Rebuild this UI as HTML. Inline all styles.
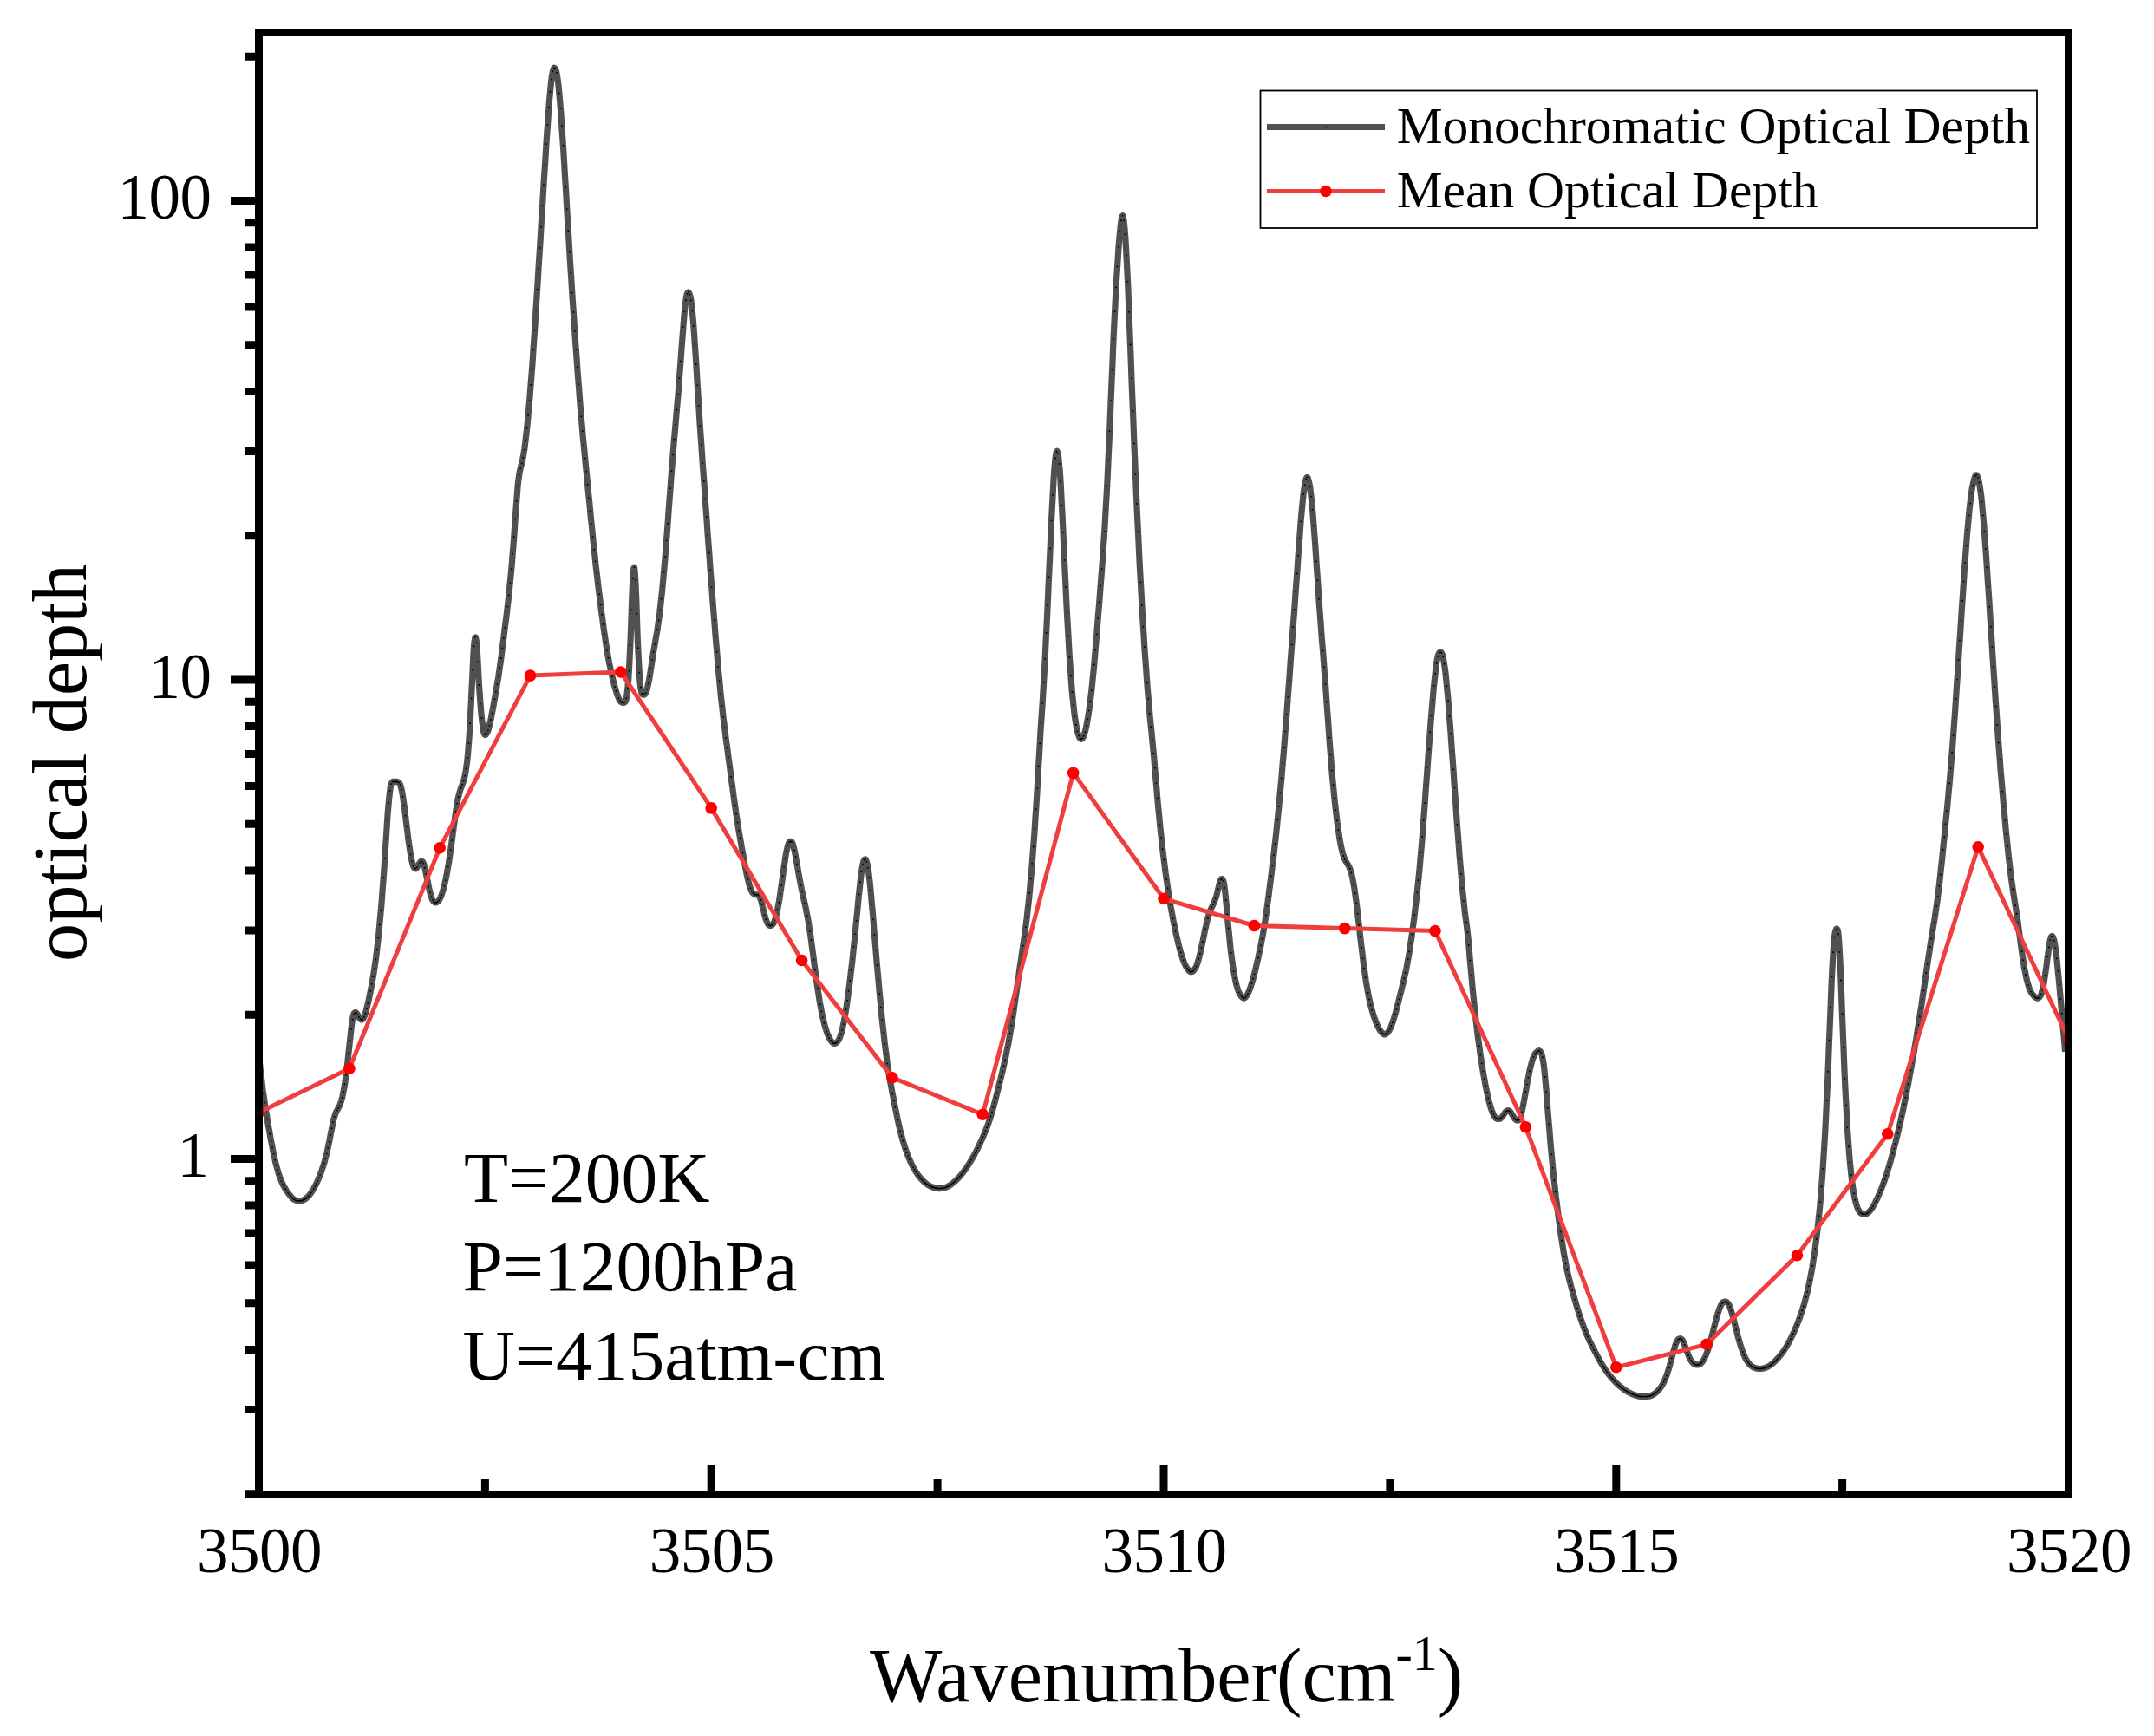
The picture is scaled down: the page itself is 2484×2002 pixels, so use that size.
<!DOCTYPE html>
<html lang="en"><head><meta charset="utf-8"><title>Optical depth</title>
<style>html,body{margin:0;padding:0;background:#fff}body{width:2484px;height:2002px;overflow:hidden}svg{display:block}text{font-family:"Liberation Serif","Times New Roman",serif;fill:#000}</style></head><body>
<svg width="2484" height="2002" viewBox="0 0 2484 2002">
<rect width="2484" height="2002" fill="#fff"/>
<defs><clipPath id="pc"><rect x="298.5" y="37.5" width="2087.0" height="1686.0"/></clipPath></defs>
<g clip-path="url(#pc)" fill="none">
<path d="M296.5 1200.3 297.2 1206.2 298 1212.6 298.8 1219.2 299.5 1226 300.2 1232.8 301 1239.5 301.8 1245.9 302.5 1252.1 303.2 1258 304 1263.5 304.8 1268.8 305.5 1273.8 306.2 1278.6 307 1283.3 307.8 1287.9 308.5 1292.4 309.2 1296.8 310 1301.1 310.8 1305.4 311.5 1309.6 312.2 1313.8 313 1317.8 313.8 1321.7 314.5 1325.6 315.2 1329.2 316 1332.8 316.8 1336.2 317.5 1339.4 318.2 1342.5 319 1345.4 319.8 1348.2 320.5 1350.8 321.2 1353.2 322 1355.5 322.8 1357.6 323.5 1359.6 324.2 1361.5 325 1363.2 325.8 1364.9 326.5 1366.4 327.2 1367.9 328 1369.2 328.8 1370.5 329.5 1371.7 330.2 1372.9 331 1374 331.8 1375.1 332.5 1376.1 333.2 1377.1 334 1378.1 334.8 1379 335.5 1379.9 336.2 1380.7 337 1381.5 337.8 1382.2 338.5 1382.8 339.2 1383.3 340 1383.7 340.8 1384.1 341.5 1384.4 342.2 1384.6 343 1384.8 343.8 1384.9 344.5 1385 345.2 1385 346 1384.9 346.8 1384.8 347.5 1384.6 348.2 1384.4 349 1384.2 349.8 1383.9 350.5 1383.5 351.2 1383.1 352 1382.6 352.8 1382.1 353.5 1381.5 354.2 1380.8 355 1380.1 355.8 1379.3 356.5 1378.5 357.2 1377.6 358 1376.6 358.8 1375.6 359.5 1374.5 360.2 1373.3 361 1372.1 361.8 1370.8 362.5 1369.4 363.2 1368 364 1366.5 364.8 1365 365.5 1363.4 366.2 1361.8 367 1360.1 367.8 1358.3 368.5 1356.5 369.2 1354.6 370 1352.6 370.8 1350.6 371.5 1348.4 372.2 1346.2 373 1343.8 373.8 1341.4 374.5 1338.8 375.2 1336 376 1333.1 376.8 1330.1 377.5 1326.9 378.2 1323.5 379 1319.9 379.8 1316.2 380.5 1312.4 381.2 1308.4 382 1304.5 382.8 1300.6 383.5 1296.8 384.2 1293.4 385 1290.2 385.8 1287.5 386.5 1285.2 387.2 1283.3 388 1281.7 388.8 1280.3 389.5 1279 390.2 1277.7 391 1276.3 391.8 1274.6 392.5 1272.7 393.2 1270.6 394 1268 394.8 1265.1 395.5 1261.7 396.2 1258 397 1253.7 397.8 1249 398.5 1243.8 399.2 1238.1 400 1232 400.8 1225.6 401.5 1218.8 402.2 1211.8 403 1204.8 403.8 1197.8 404.5 1191 405.2 1184.6 406 1178.9 406.8 1174.2 407.5 1170.7 408.2 1168.7 409 1167.8 409.8 1167.6 410.5 1167.8 411.2 1168.4 412 1169.5 412.8 1170.9 413.5 1172.3 414.2 1173.5 415 1174.6 415.8 1175.4 416.5 1175.9 417.2 1176 418 1175.6 418.8 1174.8 419.5 1173.6 420.2 1172 421 1169.9 421.8 1167.4 422.5 1164.6 423.2 1161.6 424 1158.5 424.8 1155.2 425.5 1151.7 426.2 1148.1 427 1144.4 427.8 1140.6 428.5 1136.6 429.2 1132.5 430 1128.2 430.8 1123.7 431.5 1119 432.2 1114 433 1108.7 433.8 1103.1 434.5 1097 435.2 1090.7 436 1083.9 436.8 1076.8 437.5 1069.3 438.2 1061.4 439 1053.1 439.8 1044.4 440.5 1035.2 441.2 1025.5 442 1015.4 442.8 1004.7 443.5 993.6 444.2 982.2 445 970.6 445.8 959.1 446.5 948.1 447.2 937.6 448 928.2 448.8 920.1 449.5 913.4 450.2 908.3 451 904.8 451.8 902.7 452.5 901.7 453.2 901.4 454 901.3 454.8 901.3 455.5 901.2 456.2 901.3 457 901.4 457.8 901.5 458.5 901.7 459.2 901.9 460 902.5 460.8 903.4 461.5 905 462.2 907.2 463 910.2 463.8 913.8 464.5 918.1 465.2 923 466 928.4 466.8 934.1 467.5 940.1 468.2 946.3 469 952.5 469.8 958.6 470.5 964.6 471.2 970.4 472 975.8 472.8 980.8 473.5 985.3 474.2 989.4 475 993 475.8 996 476.5 998.4 477.2 1000.1 478 1001.2 478.8 1001.7 479.5 1001.8 480.2 1001.2 481 1000.2 481.8 998.9 482.5 997.6 483.2 996.2 484 995 484.8 994 485.5 993.3 486.2 993.2 487 993.5 487.8 994.3 488.5 995.7 489.2 998 490 1001.1 490.8 1004.6 491.5 1008.3 492.2 1012.1 493 1015.9 493.8 1019.6 494.5 1023.2 495.2 1026.5 496 1029.6 496.8 1032.3 497.5 1034.7 498.2 1036.7 499 1038.2 499.8 1039.3 500.5 1040.1 501.2 1040.6 502 1040.9 502.8 1040.9 503.5 1040.6 504.2 1040.2 505 1039.7 505.8 1038.9 506.5 1037.9 507.2 1036.6 508 1035.1 508.8 1033.3 509.5 1031.2 510.2 1028.9 511 1026.4 511.8 1023.7 512.5 1020.7 513.2 1017.5 514 1014 514.8 1010.3 515.5 1006.4 516.2 1002.2 517 997.8 517.8 993.2 518.5 988.3 519.2 983.2 520 977.9 520.8 972.4 521.5 966.8 522.2 961.1 523 955.4 523.8 949.7 524.5 944.2 525.2 938.8 526 933.8 526.8 929.1 527.5 924.8 528.2 920.9 529 917.5 529.8 914.6 530.5 912 531.2 909.8 532 907.7 532.8 905.8 533.5 903.8 534.2 901.7 535 899.3 535.8 896.3 536.5 892.8 537.2 888.6 538 883.4 538.8 877.2 539.5 869.8 540.2 861.2 541 851.1 541.8 839.5 542.5 826.4 543.2 811.8 544 796 544.8 779.3 545.5 763.1 546.2 749.4 547 740.2 547.8 735.6 548.5 735.1 549.2 738.7 550 746.7 550.8 758.5 551.5 772.3 552.2 785.7 553 797.9 553.8 808.6 554.5 817.9 555.2 825.8 556 832.5 556.8 838.2 557.5 842.8 558.2 845.9 559 847.4 559.8 847.5 560.5 846.9 561.2 846 562 844.6 562.8 842.7 563.5 840.3 564.2 837.4 565 834.2 565.8 830.8 566.5 827.2 567.2 823.3 568 819.4 568.8 815.3 569.5 811.2 570.2 807 571 802.8 571.8 798.5 572.5 794.2 573.2 789.7 574 785.2 574.8 780.5 575.5 775.5 576.2 770.4 577 765.1 577.8 759.6 578.5 753.9 579.2 748 580 742.1 580.8 736.2 581.5 730.2 582.2 724.2 583 718.3 583.8 712.3 584.5 706.1 585.2 699.8 586 693.3 586.8 686.6 587.5 679.5 588.2 672.2 589 664.4 589.8 656.2 590.5 647.6 591.2 638.5 592 629 592.8 619 593.5 608.6 594.2 598 595 587.5 595.8 577.3 596.5 567.9 597.2 559.5 598 552.6 598.8 547.2 599.5 543.1 600.2 539.9 601 537 601.8 534.2 602.5 531 603.2 527.3 604 522.9 604.8 518 605.5 512.4 606.2 506.3 607 499.6 607.8 492.6 608.5 485.1 609.2 477.3 610 469 610.8 460.4 611.5 451.4 612.2 442 613 432.2 613.8 422 614.5 411.5 615.2 400.6 616 389.4 616.8 377.9 617.5 366.3 618.2 354.5 619 342.6 619.8 330.6 620.5 318.6 621.2 306.5 622 294.4 622.8 282.3 623.5 270.1 624.2 258 625 245.8 625.8 233.6 626.5 221.4 627.2 209.2 628 197.2 628.8 185.3 629.5 173.5 630.2 162 631 150.8 631.8 140 632.5 129.7 633.2 119.8 634 110.8 634.8 102.6 635.5 95.4 636.2 89.2 637 84.4 637.8 80.9 638.5 78.9 639.2 78.2 640 78.6 640.8 79.8 641.5 82.2 642.2 85.8 643 90.7 643.8 96.7 644.5 103.7 645.2 111.6 646 120.4 646.8 130 647.5 140.1 648.2 150.9 649 162.2 649.8 173.9 650.5 185.9 651.2 198.2 652 210.7 652.8 223.3 653.5 235.9 654.2 248.5 655 261 655.8 273.5 656.5 285.8 657.2 297.9 658 309.9 658.8 321.7 659.5 333.3 660.2 344.7 661 356 661.8 367.1 662.5 378.1 663.2 388.8 664 399.5 664.8 409.9 665.5 420.2 666.2 430.3 667 440.3 667.8 450 668.5 459.5 669.2 468.7 670 477.7 670.8 486.5 671.5 494.9 672.2 503.2 673 511.2 673.8 519 674.5 526.7 675.2 534.4 676 542 676.8 549.6 677.5 557.2 678.2 564.9 679 572.5 679.8 580.2 680.5 587.9 681.2 595.6 682 603.2 682.8 610.7 683.5 618.1 684.2 625.5 685 632.6 685.8 639.7 686.5 646.5 687.2 653.2 688 659.8 688.8 666.2 689.5 672.5 690.2 678.7 691 684.8 691.8 690.8 692.5 696.7 693.2 702.6 694 708.4 694.8 714.1 695.5 719.7 696.2 725.1 697 730.5 697.8 735.6 698.5 740.6 699.2 745.4 700 750.1 700.8 754.5 701.5 758.7 702.2 762.7 703 766.6 703.8 770.3 704.5 773.8 705.2 777.1 706 780.4 706.8 783.5 707.5 786.5 708.2 789.3 709 792.1 709.8 794.7 710.5 797.1 711.2 799.5 712 801.6 712.8 803.6 713.5 805.4 714.2 807 715 808.3 715.8 809.2 716.5 809.8 717.2 810.1 718 810.2 718.8 810.3 719.5 810.3 720.2 810.1 721 809.4 721.8 807.8 722.5 804.5 723.2 799.2 724 791.8 724.8 782.4 725.5 771 726.2 756.9 727 739.7 727.8 719.5 728.5 698.1 729.2 678.6 730 664.1 730.8 655.8 731.5 654.3 732.2 660 733 673.4 733.8 692.6 734.5 714 735.2 734.5 736 752.5 736.8 767.3 737.5 779 738.2 787.9 739 794.3 739.8 798.4 740.5 800.5 741.2 801.1 742 801.2 742.8 801.1 743.5 800.8 744.2 800 745 798.4 745.8 796.3 746.5 793.5 747.2 790.4 748 786.7 748.8 782.7 749.5 778.4 750.2 773.8 751 768.9 751.8 764 752.5 759 753.2 754.2 754 749.6 754.8 745.1 755.5 740.8 756.2 736.6 757 732.3 757.8 727.9 758.5 723.2 759.2 718.1 760 712.6 760.8 706.7 761.5 700.4 762.2 693.7 763 686.5 763.8 679.1 764.5 671.2 765.2 663.1 766 654.6 766.8 645.8 767.5 636.7 768.2 627.3 769 617.6 769.8 607.6 770.5 597.5 771.2 587.3 772 577 772.8 566.8 773.5 556.7 774.2 546.7 775 537 775.8 527.6 776.5 518.4 777.2 509.5 778 500.8 778.8 492.2 779.5 483.7 780.2 475.2 781 466.4 781.8 457.5 782.5 448.3 783.2 438.8 784 429 784.8 419 785.5 408.9 786.2 398.8 787 388.7 787.8 379 788.5 369.7 789.2 361.1 790 353.5 790.8 347.2 791.5 342.6 792.2 339.4 793 337.5 793.8 337 794.5 337.7 795.2 339.3 796 341.9 796.8 345.7 797.5 350.9 798.2 357.6 799 365.7 799.8 374.8 800.5 384.9 801.2 395.8 802 407.1 802.8 418.9 803.5 431 804.2 443.1 805 455.3 805.8 467.3 806.5 479.1 807.2 490.5 808 501.7 808.8 512.6 809.5 523.3 810.2 533.9 811 544.3 811.8 554.7 812.5 565.1 813.2 575.5 814 586 814.8 596.5 815.5 606.9 816.2 617.3 817 627.6 817.8 637.9 818.5 648 819.2 658 820 668 820.8 677.8 821.5 687.5 822.2 697.1 823 706.7 823.8 716.2 824.5 725.5 825.2 734.8 826 743.9 826.8 752.8 827.5 761.5 828.2 770 829 778.3 829.8 786.2 830.5 793.9 831.2 801.3 832 808.4 832.8 815.3 833.5 821.9 834.2 828.2 835 834.4 835.8 840.5 836.5 846.4 837.2 852.1 838 857.8 838.8 863.5 839.5 869.1 840.2 874.7 841 880.3 841.8 885.9 842.5 891.6 843.2 897.2 844 902.8 844.8 908.4 845.5 914 846.2 919.5 847 924.9 847.8 930.2 848.5 935.4 849.2 940.4 850 945.3 850.8 950.1 851.5 954.7 852.2 959.3 853 963.7 853.8 968 854.5 972.3 855.2 976.6 856 980.8 856.8 985 857.5 989.2 858.2 993.3 859 997.3 859.8 1001.2 860.5 1005 861.2 1008.6 862 1012.1 862.8 1015.3 863.5 1018.2 864.2 1020.9 865 1023.2 865.8 1025.3 866.5 1027 867.2 1028.5 868 1029.7 868.8 1030.5 869.5 1031.1 870.2 1031.5 871 1031.7 871.8 1031.8 872.5 1031.8 873.2 1031.8 874 1032.1 874.8 1032.6 875.5 1033.6 876.2 1035 877 1036.8 877.8 1039.2 878.5 1041.9 879.2 1044.8 880 1047.9 880.8 1051 881.5 1054 882.2 1056.8 883 1059.4 883.8 1061.7 884.5 1063.6 885.2 1065.1 886 1066.2 886.8 1066.9 887.5 1067.3 888.2 1067.5 889 1067.5 889.8 1067.2 890.5 1066.7 891.2 1065.9 892 1064.8 892.8 1063.4 893.5 1061.4 894.2 1059.1 895 1056.4 895.8 1053.3 896.5 1049.8 897.2 1045.9 898 1041.7 898.8 1037.2 899.5 1032.4 900.2 1027.3 901 1022.1 901.8 1016.7 902.5 1011.3 903.2 1005.9 904 1000.6 904.8 995.5 905.5 990.6 906.2 986 907 981.9 907.8 978.3 908.5 975.3 909.2 973 910 971.4 910.8 970.5 911.5 970.2 912.2 970.4 913 971 913.8 972.3 914.5 974.3 915.2 977 916 980.2 916.8 983.8 917.5 987.7 918.2 991.9 919 996.1 919.8 1000.5 920.5 1004.8 921.2 1009 922 1013.2 922.8 1017.2 923.5 1021 924.2 1024.7 925 1028.3 925.8 1031.7 926.5 1035 927.2 1038.4 928 1041.7 928.8 1045.1 929.5 1048.7 930.2 1052.4 931 1056.3 931.8 1060.4 932.5 1064.8 933.2 1069.5 934 1074.4 934.8 1079.5 935.5 1084.8 936.2 1090.3 937 1096 937.8 1101.7 938.5 1107.5 939.2 1113.2 940 1118.9 940.8 1124.5 941.5 1130 942.2 1135.4 943 1140.5 943.8 1145.5 944.5 1150.3 945.2 1154.8 946 1159.2 946.8 1163.3 947.5 1167.1 948.2 1170.8 949 1174.2 949.8 1177.4 950.5 1180.3 951.2 1183.1 952 1185.7 952.8 1188.1 953.5 1190.3 954.2 1192.4 955 1194.2 955.8 1195.9 956.5 1197.4 957.2 1198.8 958 1200 958.8 1200.9 959.5 1201.8 960.2 1202.5 961 1203 961.8 1203.3 962.5 1203.4 963.2 1203.3 964 1202.9 964.8 1202.3 965.5 1201.6 966.2 1200.7 967 1199.6 967.8 1198.1 968.5 1196.4 969.2 1194.4 970 1192 970.8 1189.4 971.5 1186.4 972.2 1183.1 973 1179.5 973.8 1175.5 974.5 1171.2 975.2 1166.6 976 1161.7 976.8 1156.6 977.5 1151.2 978.2 1145.7 979 1140 979.8 1134.1 980.5 1128 981.2 1121.8 982 1115.4 982.8 1108.8 983.5 1102 984.2 1095 985 1087.9 985.8 1080.5 986.5 1072.9 987.2 1065.3 988 1057.5 988.8 1049.7 989.5 1041.9 990.2 1034.4 991 1027 991.8 1020 992.5 1013.4 993.2 1007.4 994 1002.1 994.8 997.8 995.5 994.6 996.2 992.4 997 991.2 997.8 990.9 998.5 991.6 999.2 993.3 1000 995.8 1000.8 999.3 1001.5 1004 1002.2 1009.8 1003 1016.6 1003.8 1024.1 1004.5 1032 1005.2 1040.3 1006 1049 1006.8 1057.8 1007.5 1066.8 1008.2 1075.8 1009 1084.7 1009.8 1093.6 1010.5 1102.4 1011.2 1111.1 1012 1119.6 1012.8 1128.1 1013.5 1136.3 1014.2 1144.4 1015 1152.4 1015.8 1160.2 1016.5 1167.8 1017.2 1175.3 1018 1182.5 1018.8 1189.5 1019.5 1196.2 1020.2 1202.7 1021 1208.9 1021.8 1214.8 1022.5 1220.4 1023.2 1225.8 1024 1230.9 1024.8 1235.8 1025.5 1240.5 1026.2 1245 1027 1249.3 1027.8 1253.4 1028.5 1257.4 1029.2 1261.3 1030 1265.1 1030.8 1269 1031.5 1272.8 1032.2 1276.5 1033 1280.3 1033.8 1284 1034.5 1287.7 1035.2 1291.3 1036 1294.8 1036.8 1298.1 1037.5 1301.3 1038.2 1304.5 1039 1307.4 1039.8 1310.3 1040.5 1313 1041.2 1315.6 1042 1318.1 1042.8 1320.5 1043.5 1322.9 1044.2 1325.1 1045 1327.3 1045.8 1329.4 1046.5 1331.4 1047.2 1333.3 1048 1335.2 1048.8 1337 1049.5 1338.7 1050.2 1340.4 1051 1342 1051.8 1343.5 1052.5 1345 1053.2 1346.4 1054 1347.7 1054.8 1349 1055.5 1350.2 1056.2 1351.4 1057 1352.5 1057.8 1353.6 1058.5 1354.7 1059.2 1355.7 1060 1356.7 1060.8 1357.6 1061.5 1358.5 1062.2 1359.4 1063 1360.2 1063.8 1361 1064.5 1361.8 1065.2 1362.5 1066 1363.2 1066.8 1363.9 1067.5 1364.5 1068.2 1365.1 1069 1365.7 1069.8 1366.2 1070.5 1366.6 1071.2 1367.1 1072 1367.5 1072.8 1367.9 1073.5 1368.2 1074.2 1368.6 1075 1368.9 1075.8 1369.1 1076.5 1369.4 1077.2 1369.6 1078 1369.8 1078.8 1370 1079.5 1370.1 1080.2 1370.3 1081 1370.4 1081.8 1370.5 1082.5 1370.6 1083.2 1370.6 1084 1370.6 1084.8 1370.5 1085.5 1370.5 1086.2 1370.4 1087 1370.3 1087.8 1370.1 1088.5 1370 1089.2 1369.8 1090 1369.5 1090.8 1369.3 1091.5 1369 1092.2 1368.6 1093 1368.2 1093.8 1367.8 1094.5 1367.4 1095.2 1366.9 1096 1366.5 1096.8 1365.9 1097.5 1365.4 1098.2 1364.8 1099 1364.2 1099.8 1363.6 1100.5 1363 1101.2 1362.3 1102 1361.6 1102.8 1360.9 1103.5 1360.2 1104.2 1359.4 1105 1358.6 1105.8 1357.8 1106.5 1357 1107.2 1356.2 1108 1355.3 1108.8 1354.4 1109.5 1353.5 1110.2 1352.5 1111 1351.6 1111.8 1350.6 1112.5 1349.6 1113.2 1348.5 1114 1347.4 1114.8 1346.4 1115.5 1345.2 1116.2 1344.1 1117 1342.9 1117.8 1341.8 1118.5 1340.6 1119.2 1339.3 1120 1338.1 1120.8 1336.8 1121.5 1335.5 1122.2 1334.2 1123 1332.8 1123.8 1331.4 1124.5 1330 1125.2 1328.6 1126 1327.2 1126.8 1325.7 1127.5 1324.2 1128.2 1322.7 1129 1321.2 1129.8 1319.6 1130.5 1318 1131.2 1316.4 1132 1314.8 1132.8 1313.1 1133.5 1311.4 1134.2 1309.7 1135 1307.9 1135.8 1306.1 1136.5 1304.2 1137.2 1302.4 1138 1300.4 1138.8 1298.4 1139.5 1296.4 1140.2 1294.3 1141 1292.1 1141.8 1289.8 1142.5 1287.5 1143.2 1285.1 1144 1282.5 1144.8 1279.9 1145.5 1277.2 1146.2 1274.5 1147 1271.6 1147.8 1268.8 1148.5 1265.8 1149.2 1262.9 1150 1259.9 1150.8 1256.9 1151.5 1253.9 1152.2 1250.9 1153 1247.9 1153.8 1244.8 1154.5 1241.7 1155.2 1238.6 1156 1235.5 1156.8 1232.2 1157.5 1229 1158.2 1225.6 1159 1222.2 1159.8 1218.7 1160.5 1215.1 1161.2 1211.4 1162 1207.6 1162.8 1203.7 1163.5 1199.6 1164.2 1195.4 1165 1191.1 1165.8 1186.6 1166.5 1182 1167.2 1177.2 1168 1172.3 1168.8 1167.3 1169.5 1162.2 1170.2 1157 1171 1151.7 1171.8 1146.4 1172.5 1141 1173.2 1135.7 1174 1130.4 1174.8 1125.2 1175.5 1119.9 1176.2 1114.7 1177 1109.6 1177.8 1104.5 1178.5 1099.4 1179.2 1094.3 1180 1089.1 1180.8 1083.9 1181.5 1078.6 1182.2 1073.1 1183 1067.5 1183.8 1061.6 1184.5 1055.4 1185.2 1048.9 1186 1042 1186.8 1034.7 1187.5 1027.1 1188.2 1019 1189 1010.5 1189.8 1001.6 1190.5 992.3 1191.2 982.7 1192 972.6 1192.8 962.2 1193.5 951.3 1194.2 940.1 1195 928.4 1195.8 916.2 1196.5 903.7 1197.2 890.8 1198 877.6 1198.8 864.6 1199.5 851.8 1200.2 839.7 1201 828.2 1201.8 816.8 1202.5 805.4 1203.2 793.3 1204 780.5 1204.8 766.9 1205.5 752.5 1206.2 737.4 1207 721.8 1207.8 705.8 1208.5 689.5 1209.2 673 1210 656.3 1210.8 639.7 1211.5 623.3 1212.2 607.1 1213 591.6 1213.8 576.8 1214.5 563 1215.2 550.4 1216 539.5 1216.8 530.8 1217.5 524.9 1218.2 521.5 1219 520.4 1219.8 521.9 1220.5 526 1221.2 532.2 1222 540.6 1222.8 551.2 1223.5 563.8 1224.2 577.9 1225 593.1 1225.8 609 1226.5 625.1 1227.2 641.2 1228 657.1 1228.8 672.7 1229.5 687.9 1230.2 702.6 1231 716.7 1231.8 730.2 1232.5 743 1233.2 755.1 1234 766.5 1234.8 777.2 1235.5 787.1 1236.2 796.2 1237 804.5 1237.8 812 1238.5 818.8 1239.2 824.9 1240 830.3 1240.8 835 1241.5 839.1 1242.2 842.7 1243 845.6 1243.8 847.9 1244.5 849.7 1245.2 851.1 1246 852 1246.8 852.3 1247.5 852.1 1248.2 851.5 1249 850.4 1249.8 848.9 1250.5 846.9 1251.2 844.3 1252 841.1 1252.8 837.6 1253.5 833.7 1254.2 829.4 1255 824.8 1255.8 819.8 1256.5 814.4 1257.2 808.7 1258 802.7 1258.8 796.2 1259.5 789.4 1260.2 782.1 1261 774.5 1261.8 766.4 1262.5 758 1263.2 749.2 1264 740.3 1264.8 731.1 1265.5 721.9 1266.2 712.6 1267 703.2 1267.8 693.8 1268.5 684.3 1269.2 674.8 1270 665.1 1270.8 655.1 1271.5 644.9 1272.2 634.2 1273 623.1 1273.8 611.4 1274.5 599.2 1275.2 586.3 1276 572.7 1276.8 558.4 1277.5 543.3 1278.2 527.6 1279 511.2 1279.8 494.2 1280.5 476.7 1281.2 458.7 1282 440.6 1282.8 422.5 1283.5 404.7 1284.2 387.5 1285 371.1 1285.8 355.8 1286.5 341.6 1287.2 328.4 1288 316.1 1288.8 304.2 1289.5 292.8 1290.2 282.3 1291 273 1291.8 265 1292.5 258.2 1293.2 252.8 1294 249.5 1294.8 248.8 1295.5 251.1 1296.2 256.2 1297 263.9 1297.8 273.9 1298.5 285.8 1299.2 299.3 1300 314.3 1300.8 330.7 1301.5 348.3 1302.2 366.8 1303 385.8 1303.8 405 1304.5 424.4 1305.2 443.7 1306 463 1306.8 482 1307.5 500.8 1308.2 519.2 1309 537.2 1309.8 554.7 1310.5 571.8 1311.2 588.5 1312 604.6 1312.8 620.3 1313.5 635.4 1314.2 650.2 1315 664.4 1315.8 678.2 1316.5 691.5 1317.2 704.5 1318 717 1318.8 729.1 1319.5 740.7 1320.2 752 1321 762.8 1321.8 773.2 1322.5 783.2 1323.2 792.8 1324 802 1324.8 810.9 1325.5 819.3 1326.2 827.4 1327 835.2 1327.8 842.7 1328.5 850.1 1329.2 857.7 1330 865.6 1330.8 873.9 1331.5 882.5 1332.2 891.4 1333 900.3 1333.8 909.1 1334.5 917.7 1335.2 926 1336 934.1 1336.8 941.9 1337.5 949.5 1338.2 956.8 1339 963.9 1339.8 970.7 1340.5 977.4 1341.2 983.7 1342 989.9 1342.8 995.9 1343.5 1001.7 1344.2 1007.3 1345 1012.7 1345.8 1018 1346.5 1023.1 1347.2 1028.1 1348 1032.9 1348.8 1037.5 1349.5 1042 1350.2 1046.4 1351 1050.6 1351.8 1054.6 1352.5 1058.6 1353.2 1062.4 1354 1066.2 1354.8 1069.8 1355.5 1073.4 1356.2 1076.9 1357 1080.3 1357.8 1083.5 1358.5 1086.7 1359.2 1089.7 1360 1092.6 1360.8 1095.4 1361.5 1098 1362.2 1100.5 1363 1102.9 1363.8 1105.2 1364.5 1107.3 1365.2 1109.2 1366 1111 1366.8 1112.7 1367.5 1114.2 1368.2 1115.6 1369 1116.8 1369.8 1117.8 1370.5 1118.8 1371.2 1119.6 1372 1120.2 1372.8 1120.7 1373.5 1120.8 1374.2 1120.7 1375 1120.4 1375.8 1119.9 1376.5 1119.2 1377.2 1118.3 1378 1117.3 1378.8 1115.9 1379.5 1114.4 1380.2 1112.5 1381 1110.4 1381.8 1108 1382.5 1105.4 1383.2 1102.5 1384 1099.4 1384.8 1096.2 1385.5 1092.7 1386.2 1089.2 1387 1085.5 1387.8 1081.8 1388.5 1078.1 1389.2 1074.5 1390 1070.9 1390.8 1067.5 1391.5 1064.3 1392.2 1061.2 1393 1058.4 1393.8 1055.8 1394.5 1053.4 1395.2 1051.3 1396 1049.4 1396.8 1047.6 1397.5 1046 1398.2 1044.5 1399 1043 1399.8 1041.4 1400.5 1039.7 1401.2 1037.8 1402 1035.7 1402.8 1033.3 1403.5 1030.5 1404.2 1027.5 1405 1024.2 1405.8 1020.8 1406.5 1017.8 1407.2 1015.6 1408 1014.1 1408.8 1013.5 1409.5 1013.6 1410.2 1014.6 1411 1016.8 1411.8 1020.5 1412.5 1026.1 1413.2 1033.1 1414 1041 1414.8 1049.2 1415.5 1057.4 1416.2 1065.6 1417 1073.6 1417.8 1081.2 1418.5 1088.4 1419.2 1095.2 1420 1101.5 1420.8 1107.3 1421.5 1112.6 1422.2 1117.5 1423 1122 1423.8 1126.1 1424.5 1129.8 1425.2 1133.2 1426 1136.2 1426.8 1138.9 1427.5 1141.3 1428.2 1143.3 1429 1145 1429.8 1146.5 1430.5 1147.7 1431.2 1148.7 1432 1149.5 1432.8 1150.2 1433.5 1150.8 1434.2 1151.1 1435 1151 1435.8 1150.5 1436.5 1149.8 1437.2 1148.8 1438 1147.7 1438.8 1146.5 1439.5 1145 1440.2 1143.3 1441 1141.5 1441.8 1139.4 1442.5 1137.2 1443.2 1134.9 1444 1132.4 1444.8 1129.8 1445.5 1127 1446.2 1124.2 1447 1121.2 1447.8 1118.2 1448.5 1115.1 1449.2 1111.9 1450 1108.6 1450.8 1105.3 1451.5 1102 1452.2 1098.5 1453 1095 1453.8 1091.4 1454.5 1087.7 1455.2 1083.8 1456 1079.7 1456.8 1075.5 1457.5 1071 1458.2 1066.4 1459 1061.5 1459.8 1056.5 1460.5 1051.3 1461.2 1045.9 1462 1040.3 1462.8 1034.7 1463.5 1028.9 1464.2 1023.1 1465 1017.2 1465.8 1011.2 1466.5 1005.2 1467.2 999.1 1468 993 1468.8 986.7 1469.5 980.3 1470.2 973.8 1471 967.1 1471.8 960.2 1472.5 953.2 1473.2 945.9 1474 938.4 1474.8 930.7 1475.5 922.8 1476.2 914.7 1477 906.5 1477.8 898 1478.5 889.4 1479.2 880.6 1480 871.6 1480.8 862.4 1481.5 853.1 1482.2 843.6 1483 833.9 1483.8 824 1484.5 814 1485.2 803.9 1486 793.8 1486.8 783.6 1487.5 773.4 1488.2 763.2 1489 753.1 1489.8 742.9 1490.5 732.7 1491.2 722.6 1492 712.4 1492.8 702.1 1493.5 691.8 1494.2 681.3 1495 670.9 1495.8 660.4 1496.5 649.9 1497.2 639.5 1498 629.2 1498.8 619.1 1499.5 609.4 1500.2 600.1 1501 591.3 1501.8 583 1502.5 575.5 1503.2 568.9 1504 563.3 1504.8 558.7 1505.5 554.9 1506.2 552.1 1507 550.6 1507.8 550.5 1508.5 551.9 1509.2 554.6 1510 558.1 1510.8 562.5 1511.5 567.9 1512.2 574.4 1513 581.8 1513.8 590.1 1514.5 599.1 1515.2 608.7 1516 618.7 1516.8 629.2 1517.5 639.9 1518.2 650.8 1519 661.8 1519.8 672.8 1520.5 683.6 1521.2 694.4 1522 704.9 1522.8 715.2 1523.5 725.1 1524.2 734.9 1525 744.4 1525.8 753.8 1526.5 763.3 1527.2 772.9 1528 782.7 1528.8 792.8 1529.5 803.1 1530.2 813.5 1531 824.1 1531.8 834.6 1532.5 844.9 1533.2 855.1 1534 865 1534.8 874.6 1535.5 883.8 1536.2 892.7 1537 901.1 1537.8 909.1 1538.5 916.7 1539.2 924 1540 930.8 1540.8 937.3 1541.5 943.4 1542.2 949.2 1543 954.7 1543.8 959.9 1544.5 964.8 1545.2 969.3 1546 973.4 1546.8 977.2 1547.5 980.5 1548.2 983.5 1549 986.1 1549.8 988.3 1550.5 990.2 1551.2 991.8 1552 993.2 1552.8 994.4 1553.5 995.6 1554.2 996.8 1555 998 1555.8 999.5 1556.5 1001.2 1557.2 1003.2 1558 1005.5 1558.8 1008.3 1559.5 1011.5 1560.2 1015.1 1561 1019.3 1561.8 1023.8 1562.5 1028.8 1563.2 1034.1 1564 1039.8 1564.8 1045.8 1565.5 1052.1 1566.2 1058.5 1567 1065.1 1567.8 1071.7 1568.5 1078.3 1569.2 1084.9 1570 1091.3 1570.8 1097.7 1571.5 1103.9 1572.2 1109.8 1573 1115.6 1573.8 1121.1 1574.5 1126.3 1575.2 1131.3 1576 1136 1576.8 1140.4 1577.5 1144.5 1578.2 1148.4 1579 1152 1579.8 1155.4 1580.5 1158.6 1581.2 1161.6 1582 1164.3 1582.8 1166.9 1583.5 1169.4 1584.2 1171.7 1585 1173.9 1585.8 1176 1586.5 1178 1587.2 1179.8 1588 1181.6 1588.8 1183.3 1589.5 1184.8 1590.2 1186.2 1591 1187.5 1591.8 1188.7 1592.5 1189.7 1593.2 1190.6 1594 1191.4 1594.8 1192.1 1595.5 1192.6 1596.2 1192.9 1597 1192.9 1597.8 1192.7 1598.5 1192.2 1599.2 1191.7 1600 1191 1600.8 1190.1 1601.5 1189.1 1602.2 1187.8 1603 1186.4 1603.8 1184.8 1604.5 1183 1605.2 1181.1 1606 1179 1606.8 1176.8 1607.5 1174.4 1608.2 1171.8 1609 1169.2 1609.8 1166.5 1610.5 1163.7 1611.2 1160.8 1612 1157.9 1612.8 1154.9 1613.5 1151.9 1614.2 1149 1615 1146 1615.8 1143 1616.5 1140 1617.2 1137 1618 1134 1618.8 1130.9 1619.5 1127.7 1620.2 1124.3 1621 1120.9 1621.8 1117.2 1622.5 1113.4 1623.2 1109.4 1624 1105.2 1624.8 1100.8 1625.5 1096.2 1626.2 1091.4 1627 1086.4 1627.8 1081.3 1628.5 1075.9 1629.2 1070.5 1630 1064.8 1630.8 1059 1631.5 1053 1632.2 1046.8 1633 1040.4 1633.8 1033.8 1634.5 1026.9 1635.2 1019.8 1636 1012.4 1636.8 1004.6 1637.5 996.6 1638.2 988.2 1639 979.5 1639.8 970.5 1640.5 961.2 1641.2 951.6 1642 941.8 1642.8 931.8 1643.5 921.6 1644.2 911.2 1645 900.8 1645.8 890.4 1646.5 880 1647.2 869.7 1648 859.5 1648.8 849.5 1649.5 839.6 1650.2 830 1651 820.7 1651.8 811.6 1652.5 803 1653.2 794.8 1654 787 1654.8 779.8 1655.5 773.2 1656.2 767.3 1657 762.3 1657.8 758.4 1658.5 755.5 1659.2 753.7 1660 752.5 1660.8 752 1661.5 752 1662.2 752.6 1663 754.1 1663.8 756.4 1664.5 759.8 1665.2 764 1666 769 1666.8 774.8 1667.5 781.4 1668.2 788.7 1669 796.6 1669.8 805 1670.5 813.9 1671.2 823.2 1672 832.9 1672.8 842.8 1673.5 853 1674.2 863.3 1675 873.8 1675.8 884.4 1676.5 895 1677.2 905.8 1678 916.5 1678.8 927.2 1679.5 937.9 1680.2 948.4 1681 958.7 1681.8 968.8 1682.5 978.6 1683.2 988.1 1684 997.3 1684.8 1006.1 1685.5 1014.5 1686.2 1022.6 1687 1030.4 1687.8 1037.7 1688.5 1044.7 1689.2 1051.2 1690 1057.2 1690.8 1062.9 1691.5 1068.5 1692.2 1074.4 1693 1081.2 1693.8 1089 1694.5 1097.5 1695.2 1106.4 1696 1115.3 1696.8 1123.9 1697.5 1132.2 1698.2 1140.1 1699 1147.8 1699.8 1155.3 1700.5 1162.5 1701.2 1169.4 1702 1176.2 1702.8 1182.6 1703.5 1188.9 1704.2 1194.8 1705 1200.6 1705.8 1206.1 1706.5 1211.4 1707.2 1216.6 1708 1221.6 1708.8 1226.4 1709.5 1231.1 1710.2 1235.7 1711 1240.1 1711.8 1244.4 1712.5 1248.5 1713.2 1252.5 1714 1256.3 1714.8 1259.9 1715.5 1263.3 1716.2 1266.6 1717 1269.6 1717.8 1272.5 1718.5 1275.1 1719.2 1277.5 1720 1279.8 1720.8 1281.8 1721.5 1283.7 1722.2 1285.3 1723 1286.8 1723.8 1288 1724.5 1289 1725.2 1289.7 1726 1290.1 1726.8 1290.4 1727.5 1290.5 1728.2 1290.5 1729 1290.4 1729.8 1290.2 1730.5 1289.7 1731.2 1289.1 1732 1288.3 1732.8 1287.4 1733.5 1286.3 1734.2 1285.1 1735 1284 1735.8 1282.8 1736.5 1281.9 1737.2 1281.3 1738 1280.9 1738.8 1280.7 1739.5 1280.7 1740.2 1280.8 1741 1281.4 1741.8 1282.2 1742.5 1283.3 1743.2 1284.4 1744 1285.7 1744.8 1287 1745.5 1288.3 1746.2 1289.4 1747 1290.3 1747.8 1291 1748.5 1291.5 1749.2 1291.9 1750 1292.1 1750.8 1292.1 1751.5 1291.7 1752.2 1290.7 1753 1289.1 1753.8 1287 1754.5 1284.3 1755.2 1281 1756 1277.4 1756.8 1273.6 1757.5 1269.6 1758.2 1265.5 1759 1261.3 1759.8 1257 1760.5 1252.8 1761.2 1248.6 1762 1244.6 1762.8 1240.7 1763.5 1237 1764.2 1233.5 1765 1230.3 1765.8 1227.3 1766.5 1224.6 1767.2 1222.1 1768 1220 1768.8 1218.1 1769.5 1216.6 1770.2 1215.3 1771 1214.3 1771.8 1213.5 1772.5 1212.9 1773.2 1212.3 1774 1211.9 1774.8 1211.7 1775.5 1212 1776.2 1212.6 1777 1213.8 1777.8 1215.5 1778.5 1218.1 1779.2 1221.7 1780 1226.5 1780.8 1232.4 1781.5 1239.4 1782.2 1247.4 1783 1256.2 1783.8 1265.4 1784.5 1274.8 1785.2 1284.3 1786 1293.7 1786.8 1302.9 1787.5 1311.9 1788.2 1320.6 1789 1329 1789.8 1337.1 1790.5 1344.9 1791.2 1352.3 1792 1359.5 1792.8 1366.4 1793.5 1373 1794.2 1379.4 1795 1385.6 1795.8 1391.6 1796.5 1397.5 1797.2 1403.2 1798 1408.8 1798.8 1414.3 1799.5 1419.7 1800.2 1424.9 1801 1429.9 1801.8 1434.8 1802.5 1439.6 1803.2 1444.2 1804 1448.5 1804.8 1452.7 1805.5 1456.7 1806.2 1460.5 1807 1464.1 1807.8 1467.5 1808.5 1470.7 1809.2 1473.8 1810 1476.8 1810.8 1479.7 1811.5 1482.5 1812.2 1485.2 1813 1488 1813.8 1490.6 1814.5 1493.3 1815.2 1495.9 1816 1498.5 1816.8 1501.1 1817.5 1503.7 1818.2 1506.2 1819 1508.6 1819.8 1511.1 1820.5 1513.5 1821.2 1515.8 1822 1518.1 1822.8 1520.3 1823.5 1522.5 1824.2 1524.6 1825 1526.7 1825.8 1528.7 1826.5 1530.7 1827.2 1532.6 1828 1534.5 1828.8 1536.4 1829.5 1538.2 1830.2 1539.9 1831 1541.6 1831.8 1543.3 1832.5 1545 1833.2 1546.6 1834 1548.1 1834.8 1549.7 1835.5 1551.2 1836.2 1552.7 1837 1554.2 1837.8 1555.7 1838.5 1557.1 1839.2 1558.6 1840 1560 1840.8 1561.4 1841.5 1562.9 1842.2 1564.3 1843 1565.7 1843.8 1567 1844.5 1568.4 1845.2 1569.7 1846 1571 1846.8 1572.3 1847.5 1573.6 1848.2 1574.8 1849 1576 1849.8 1577.2 1850.5 1578.3 1851.2 1579.5 1852 1580.5 1852.8 1581.6 1853.5 1582.7 1854.2 1583.7 1855 1584.7 1855.8 1585.6 1856.5 1586.6 1857.2 1587.5 1858 1588.4 1858.8 1589.3 1859.5 1590.2 1860.2 1591 1861 1591.8 1861.8 1592.6 1862.5 1593.4 1863.2 1594.2 1864 1594.9 1864.8 1595.6 1865.5 1596.4 1866.2 1597 1867 1597.7 1867.8 1598.4 1868.5 1599 1869.2 1599.6 1870 1600.2 1870.8 1600.8 1871.5 1601.4 1872.2 1601.9 1873 1602.4 1873.8 1603 1874.5 1603.5 1875.2 1604 1876 1604.4 1876.8 1604.9 1877.5 1605.3 1878.2 1605.7 1879 1606.1 1879.8 1606.5 1880.5 1606.9 1881.2 1607.2 1882 1607.6 1882.8 1607.9 1883.5 1608.2 1884.2 1608.5 1885 1608.7 1885.8 1609 1886.5 1609.2 1887.2 1609.4 1888 1609.7 1888.8 1609.8 1889.5 1610 1890.2 1610.2 1891 1610.3 1891.8 1610.5 1892.5 1610.5 1893.2 1610.6 1894 1610.6 1894.8 1610.6 1895.5 1610.6 1896.2 1610.6 1897 1610.6 1897.8 1610.6 1898.5 1610.6 1899.2 1610.5 1900 1610.4 1900.8 1610.3 1901.5 1610.2 1902.2 1610 1903 1609.8 1903.8 1609.5 1904.5 1609.3 1905.2 1608.9 1906 1608.6 1906.8 1608.1 1907.5 1607.7 1908.2 1607.2 1909 1606.6 1909.8 1606 1910.5 1605.4 1911.2 1604.7 1912 1603.9 1912.8 1603 1913.5 1602.2 1914.2 1601.2 1915 1600.2 1915.8 1599 1916.5 1597.8 1917.2 1596.6 1918 1595.2 1918.8 1593.7 1919.5 1592.1 1920.2 1590.4 1921 1588.5 1921.8 1586.6 1922.5 1584.5 1923.2 1582.2 1924 1579.8 1924.8 1577.3 1925.5 1574.7 1926.2 1572 1927 1569.2 1927.8 1566.4 1928.5 1563.6 1929.2 1560.8 1930 1558 1930.8 1555.4 1931.5 1552.9 1932.2 1550.6 1933 1548.6 1933.8 1546.9 1934.5 1545.6 1935.2 1544.7 1936 1544.1 1936.8 1543.9 1937.5 1543.7 1938.2 1543.8 1939 1544.2 1939.8 1544.9 1940.5 1546 1941.2 1547.4 1942 1549.2 1942.8 1551.2 1943.5 1553.2 1944.2 1555.3 1945 1557.4 1945.8 1559.4 1946.5 1561.4 1947.2 1563.2 1948 1565 1948.8 1566.6 1949.5 1568 1950.2 1569.2 1951 1570.3 1951.8 1571.3 1952.5 1572 1953.2 1572.6 1954 1573.1 1954.8 1573.4 1955.5 1573.7 1956.2 1573.9 1957 1574 1957.8 1574 1958.5 1573.8 1959.2 1573.6 1960 1573.3 1960.8 1572.9 1961.5 1572.3 1962.2 1571.6 1963 1570.7 1963.8 1569.6 1964.5 1568.4 1965.2 1567.1 1966 1565.6 1966.8 1564 1967.5 1562.2 1968.2 1560.3 1969 1558.3 1969.8 1556.1 1970.5 1553.8 1971.2 1551.3 1972 1548.7 1972.8 1546 1973.5 1543.2 1974.2 1540.4 1975 1537.4 1975.8 1534.5 1976.5 1531.5 1977.2 1528.5 1978 1525.6 1978.8 1522.8 1979.5 1520 1980.2 1517.4 1981 1514.8 1981.8 1512.5 1982.5 1510.3 1983.2 1508.3 1984 1506.5 1984.8 1504.9 1985.5 1503.6 1986.2 1502.5 1987 1501.8 1987.8 1501.4 1988.5 1501.2 1989.2 1501.1 1990 1501.1 1990.8 1501.3 1991.5 1501.7 1992.2 1502.4 1993 1503.4 1993.8 1504.7 1994.5 1506.3 1995.2 1508.2 1996 1510.4 1996.8 1512.8 1997.5 1515.3 1998.2 1517.9 1999 1520.7 1999.8 1523.6 2000.5 1526.5 2001.2 1529.5 2002 1532.5 2002.8 1535.4 2003.5 1538.3 2004.2 1541.2 2005 1544 2005.8 1546.7 2006.5 1549.3 2007.2 1551.7 2008 1554.1 2008.8 1556.3 2009.5 1558.4 2010.2 1560.4 2011 1562.2 2011.8 1563.9 2012.5 1565.5 2013.2 1567 2014 1568.3 2014.8 1569.6 2015.5 1570.7 2016.2 1571.7 2017 1572.6 2017.8 1573.5 2018.5 1574.2 2019.2 1574.9 2020 1575.5 2020.8 1576 2021.5 1576.5 2022.2 1576.9 2023 1577.2 2023.8 1577.5 2024.5 1577.8 2025.2 1578 2026 1578.1 2026.8 1578.3 2027.5 1578.4 2028.2 1578.5 2029 1578.5 2029.8 1578.5 2030.5 1578.5 2031.2 1578.4 2032 1578.3 2032.8 1578.2 2033.5 1578 2034.2 1577.9 2035 1577.6 2035.8 1577.4 2036.5 1577.1 2037.2 1576.8 2038 1576.5 2038.8 1576.1 2039.5 1575.7 2040.2 1575.3 2041 1574.8 2041.8 1574.3 2042.5 1573.7 2043.2 1573.1 2044 1572.5 2044.8 1571.9 2045.5 1571.2 2046.2 1570.5 2047 1569.7 2047.8 1569 2048.5 1568.2 2049.2 1567.4 2050 1566.6 2050.8 1565.8 2051.5 1564.9 2052.2 1564 2053 1563.1 2053.8 1562.2 2054.5 1561.2 2055.2 1560.2 2056 1559.2 2056.8 1558.1 2057.5 1557 2058.2 1555.9 2059 1554.7 2059.8 1553.5 2060.5 1552.2 2061.2 1550.9 2062 1549.6 2062.8 1548.2 2063.5 1546.8 2064.2 1545.4 2065 1543.9 2065.8 1542.4 2066.5 1540.9 2067.2 1539.3 2068 1537.7 2068.8 1536 2069.5 1534.4 2070.2 1532.6 2071 1530.9 2071.8 1529.1 2072.5 1527.2 2073.2 1525.3 2074 1523.4 2074.8 1521.4 2075.5 1519.3 2076.2 1517.2 2077 1515 2077.8 1512.8 2078.5 1510.5 2079.2 1508.1 2080 1505.6 2080.8 1503.1 2081.5 1500.4 2082.2 1497.7 2083 1494.8 2083.8 1491.8 2084.5 1488.7 2085.2 1485.4 2086 1482 2086.8 1478.4 2087.5 1474.7 2088.2 1470.8 2089 1466.7 2089.8 1462.4 2090.5 1457.9 2091.2 1453.1 2092 1448.2 2092.8 1443 2093.5 1437.6 2094.2 1431.9 2095 1425.9 2095.8 1419.6 2096.5 1412.9 2097.2 1405.9 2098 1398.4 2098.8 1390.4 2099.5 1381.9 2100.2 1372.9 2101 1363.2 2101.8 1352.9 2102.5 1342 2103.2 1330.3 2104 1317.9 2104.8 1304.7 2105.5 1290.7 2106.2 1275.7 2107 1259.8 2107.8 1243 2108.5 1225.3 2109.2 1206.9 2110 1188.1 2110.8 1169.1 2111.5 1150.4 2112.2 1132.7 2113 1116.5 2113.8 1102.6 2114.5 1091.2 2115.2 1082.7 2116 1076.9 2116.8 1073.3 2117.5 1071.4 2118.2 1070.9 2119 1071.9 2119.8 1075.5 2120.5 1082.8 2121.2 1094 2122 1108.4 2122.8 1125.4 2123.5 1144.1 2124.2 1163.8 2125 1183.8 2125.8 1203.4 2126.5 1222.2 2127.2 1239.7 2128 1256.1 2128.8 1271.1 2129.5 1285 2130.2 1297.8 2131 1309.5 2131.8 1320.2 2132.5 1329.9 2133.2 1338.7 2134 1346.7 2134.8 1353.9 2135.5 1360.3 2136.2 1366.1 2137 1371.2 2137.8 1375.7 2138.5 1379.7 2139.2 1383.2 2140 1386.3 2140.8 1389 2141.5 1391.3 2142.2 1393.3 2143 1394.9 2143.8 1396.3 2144.5 1397.5 2145.2 1398.4 2146 1399.1 2146.8 1399.5 2147.5 1399.9 2148.2 1400.1 2149 1400.3 2149.8 1400.4 2150.5 1400.4 2151.2 1400.2 2152 1399.9 2152.8 1399.5 2153.5 1399 2154.2 1398.5 2155 1397.8 2155.8 1397.1 2156.5 1396.3 2157.2 1395.4 2158 1394.4 2158.8 1393.3 2159.5 1392.1 2160.2 1390.9 2161 1389.6 2161.8 1388.2 2162.5 1386.8 2163.2 1385.3 2164 1383.8 2164.8 1382.2 2165.5 1380.6 2166.2 1378.9 2167 1377.2 2167.8 1375.5 2168.5 1373.7 2169.2 1371.9 2170 1370 2170.8 1368 2171.5 1366.1 2172.2 1364 2173 1361.9 2173.8 1359.8 2174.5 1357.5 2175.2 1355.3 2176 1352.9 2176.8 1350.5 2177.5 1348.1 2178.2 1345.6 2179 1343 2179.8 1340.4 2180.5 1337.8 2181.2 1335.1 2182 1332.3 2182.8 1329.5 2183.5 1326.7 2184.2 1323.9 2185 1321 2185.8 1318.1 2186.5 1315.1 2187.2 1312.1 2188 1309 2188.8 1305.9 2189.5 1302.8 2190.2 1299.5 2191 1296.3 2191.8 1293 2192.5 1289.6 2193.2 1286.2 2194 1282.7 2194.8 1279.1 2195.5 1275.5 2196.2 1271.9 2197 1268.1 2197.8 1264.4 2198.5 1260.5 2199.2 1256.6 2200 1252.7 2200.8 1248.7 2201.5 1244.7 2202.2 1240.6 2203 1236.6 2203.8 1232.5 2204.5 1228.3 2205.2 1224.1 2206 1219.9 2206.8 1215.7 2207.5 1211.4 2208.2 1207 2209 1202.6 2209.8 1198.1 2210.5 1193.5 2211.2 1188.9 2212 1184.2 2212.8 1179.4 2213.5 1174.6 2214.2 1169.7 2215 1164.7 2215.8 1159.8 2216.5 1154.7 2217.2 1149.7 2218 1144.6 2218.8 1139.5 2219.5 1134.4 2220.2 1129.2 2221 1124.1 2221.8 1118.9 2222.5 1113.8 2223.2 1108.7 2224 1103.6 2224.8 1098.6 2225.5 1093.7 2226.2 1088.8 2227 1084 2227.8 1079.3 2228.5 1074.7 2229.2 1070.1 2230 1065.5 2230.8 1060.9 2231.5 1056.2 2232.2 1051.4 2233 1046.3 2233.8 1041.1 2234.5 1035.5 2235.2 1029.6 2236 1023.5 2236.8 1017 2237.5 1010.3 2238.2 1003.4 2239 996.2 2239.8 989 2240.5 981.7 2241.2 974.3 2242 966.8 2242.8 959.3 2243.5 951.8 2244.2 944.2 2245 936.6 2245.8 928.8 2246.5 921 2247.2 912.9 2248 904.7 2248.8 896.2 2249.5 887.4 2250.2 878.4 2251 869 2251.8 859.3 2252.5 849.3 2253.2 839.1 2254 828.5 2254.8 817.8 2255.5 806.8 2256.2 795.7 2257 784.5 2257.8 773.2 2258.5 761.8 2259.2 750.4 2260 738.9 2260.8 727.4 2261.5 715.9 2262.2 704.4 2263 693 2263.8 681.8 2264.5 670.7 2265.2 659.8 2266 649.1 2266.8 638.8 2267.5 628.9 2268.2 619.4 2269 610.5 2269.8 602 2270.5 594.1 2271.2 586.8 2272 580.1 2272.8 573.9 2273.5 568.5 2274.2 563.6 2275 559.5 2275.8 556 2276.5 553.1 2277.2 550.6 2278 548.8 2278.8 547.8 2279.5 548 2280.2 549.1 2281 551.1 2281.8 553.7 2282.5 557 2283.2 561.3 2284 566.6 2284.8 572.8 2285.5 579.8 2286.2 587.5 2287 596 2287.8 605 2288.5 614.6 2289.2 624.7 2290 635.1 2290.8 645.9 2291.5 656.9 2292.2 668.2 2293 679.5 2293.8 691 2294.5 702.6 2295.2 714.3 2296 726 2296.8 737.7 2297.5 749.4 2298.2 761 2299 772.7 2299.8 784.2 2300.5 795.6 2301.2 806.9 2302 818 2302.8 828.9 2303.5 839.5 2304.2 849.9 2305 860.1 2305.8 870 2306.5 879.7 2307.2 889.2 2308 898.4 2308.8 907.4 2309.5 916.2 2310.2 924.8 2311 933.2 2311.8 941.4 2312.5 949.4 2313.2 957.2 2314 964.8 2314.8 972.2 2315.5 979.3 2316.2 986.3 2317 993 2317.8 999.5 2318.5 1005.7 2319.2 1011.6 2320 1017.3 2320.8 1022.6 2321.5 1027.8 2322.2 1032.7 2323 1037.4 2323.8 1042.1 2324.5 1046.7 2325.2 1051.5 2326 1056.5 2326.8 1061.6 2327.5 1067 2328.2 1072.6 2329 1078.3 2329.8 1084 2330.5 1089.6 2331.2 1095.1 2332 1100.4 2332.8 1105.4 2333.5 1110.1 2334.2 1114.6 2335 1118.8 2335.8 1122.6 2336.5 1126.2 2337.2 1129.5 2338 1132.5 2338.8 1135.2 2339.5 1137.7 2340.2 1139.8 2341 1141.7 2341.8 1143.3 2342.5 1144.7 2343.2 1145.8 2344 1146.8 2344.8 1147.7 2345.5 1148.5 2346.2 1149.3 2347 1150 2347.8 1150.5 2348.5 1150.9 2349.2 1151.1 2350 1151.1 2350.8 1150.8 2351.5 1150.3 2352.2 1149.6 2353 1148.5 2353.8 1147 2354.5 1144.8 2355.2 1142.1 2356 1138.7 2356.8 1134.9 2357.5 1130.6 2358.2 1125.8 2359 1120.7 2359.8 1115.3 2360.5 1109.7 2361.2 1104 2362 1098.4 2362.8 1093.1 2363.5 1088.4 2364.2 1084.5 2365 1081.5 2365.8 1079.8 2366.5 1079.4 2367.2 1080.2 2368 1081.9 2368.8 1084.4 2369.5 1088 2370.2 1092.8 2371 1098.5 2371.8 1104.9 2372.5 1111.9 2373.2 1119.4 2374 1127.2 2374.8 1135.3 2375.5 1143.5 2376.2 1151.8 2377 1160.2 2377.8 1168.7 2378.5 1177.2 2379.2 1185.8 2380 1194.4 2380.8 1203.1 2381.5 1211.8 2381.6 1213" stroke="#505050" stroke-width="7.2" stroke-linejoin="round" stroke-linecap="butt"/>
<path d="M299.2 1223.3h0M300.7 1236.8h0M302.2 1249.5h0M303.7 1261.1h0M305.2 1271.6h0M306.7 1281.2h0M308.1 1290.2h0M309.6 1299h0M311.1 1307.5h0M312.6 1315.7h0M314.1 1323.5h0M315.6 1330.9h0M317.1 1337.6h0M318.6 1343.8h0M320.1 1349.3h0M321.6 1354.1h0M323 1358.4h0M324.5 1362.1h0M326 1365.4h0M327.5 1368.3h0M329 1370.9h0M330.5 1373.3h0M332 1375.4h0M333.5 1377.4h0M335 1379.3h0M336.5 1380.9h0M337.9 1382.3h0M339.4 1383.4h0M340.9 1384.2h0M342.4 1384.7h0M343.9 1385h0M345.4 1385h0M346.9 1384.8h0M348.4 1384.4h0M349.9 1383.8h0M351.4 1383h0M352.8 1382h0M354.3 1380.7h0M355.8 1379.2h0M357.3 1377.5h0M358.8 1375.5h0M360.3 1373.2h0M361.8 1370.7h0M363.3 1368h0M364.8 1365h0M366.3 1361.8h0M367.7 1358.3h0M369.2 1354.6h0M370.7 1350.6h0M372.2 1346.3h0M373.7 1341.5h0M375.2 1336.2h0M376.7 1330.4h0M378.2 1323.8h0M379.7 1316.7h0M381.2 1309h0M382.6 1301.2h0M384.1 1293.9h0M385.6 1288h0M387.1 1283.6h0M388.6 1280.6h0M390.1 1278h0M391.6 1275h0M393.1 1271.1h0M394.6 1265.9h0M396.1 1259h0M397.5 1250.3h0M399 1239.8h0M400.5 1227.6h0M402 1214.1h0M403.5 1200.1h0M405 1186.8h0M406.5 1175.8h0M408 1169.3h0M409.5 1167.6h0M411 1168.1h0M412.4 1170.3h0M413.9 1173h0M415.4 1175.1h0M416.9 1176h0M418.4 1175.2h0M419.9 1172.8h0M421.4 1168.7h0M422.9 1163.2h0M424.4 1156.9h0M425.9 1150.1h0M427.3 1142.7h0M428.8 1134.8h0M430.3 1126.3h0M431.8 1117h0M433.3 1106.5h0M434.8 1094.6h0M436.3 1081.3h0M437.8 1066.5h0M439.3 1050.2h0M440.8 1032.1h0M442.2 1012h0M443.7 990.1h0M445.2 967.2h0M446.7 945.1h0M448.2 925.9h0M449.7 911.9h0M451.2 904.1h0M452.7 901.6h0M454.2 901.3h0M455.7 901.2h0M457.1 901.4h0M458.6 901.7h0M460.1 902.6h0M461.6 905.3h0M463.1 910.6h0M464.6 918.7h0M466.1 929h0M467.6 940.7h0M469.1 953h0M470.6 965h0M472 976h0M473.5 985.5h0M475 993.1h0M476.5 998.4h0M478 1001.2h0M479.5 1001.8h0M481 1000.3h0M482.5 997.6h0M484 995.1h0M485.5 993.4h0M486.9 993.5h0M488.4 995.6h0M489.9 1000.8h0M491.4 1007.9h0M492.9 1015.4h0M494.4 1022.6h0M495.9 1029.1h0M497.4 1034.3h0M498.9 1037.9h0M500.4 1040h0M501.8 1040.9h0M503.3 1040.7h0M504.8 1039.8h0M506.3 1038.2h0M507.8 1035.5h0M509.3 1031.8h0M510.8 1027.2h0M512.3 1021.6h0M513.8 1015.1h0M515.3 1007.7h0M516.7 999.4h0M518.2 990.1h0M519.7 979.9h0M521.2 969h0M522.7 957.7h0M524.2 946.4h0M525.7 935.9h0M527.2 926.6h0M528.7 919h0M530.2 913.2h0M531.6 908.7h0M533.1 904.8h0M534.6 900.5h0M536.1 894.7h0M537.6 886.3h0M539.1 874h0M540.6 856.9h0M542.1 834h0M543.6 805.4h0M545.1 772.7h0M546.5 745.3h0M548 734.9h0M549.5 741.1h0M551 763.2h0M552.5 790h0M554 811.8h0M555.5 828h0M557 839.6h0M558.5 846.5h0M560 847.4h0M561.4 845.7h0M562.9 842.2h0M564.4 836.7h0M565.9 830h0M567.4 822.6h0M568.9 814.6h0M570.4 806.3h0M571.9 797.8h0M573.4 789.1h0M574.9 779.8h0M576.3 769.8h0M577.8 759h0M579.3 747.5h0M580.8 735.7h0M582.3 723.8h0M583.8 711.9h0M585.3 699.6h0M586.8 686.4h0M588.3 672.1h0M589.8 656.2h0M591.2 638.6h0M592.7 619.2h0M594.2 598.5h0M595.7 577.8h0M597.2 560.1h0M598.7 547.6h0M600.2 540.1h0M601.7 534.5h0M603.2 527.8h0M604.7 518.6h0M606.1 507.2h0M607.6 493.7h0M609.1 478.7h0M610.6 462.1h0M612.1 443.9h0M613.6 424.2h0M615.1 403.1h0M616.6 380.7h0M618.1 357.5h0M619.6 333.8h0M621 309.9h0M622.5 285.9h0M624 261.7h0M625.5 237.5h0M627 213.3h0M628.5 189.4h0M630 166.1h0M631.5 144h0M633 123.6h0M634.5 105.8h0M635.9 91.6h0M637.4 82.2h0M638.9 78.4h0M640.4 79.2h0M641.9 84h0M643.4 93.7h0M644.9 107.6h0M646.4 125h0M647.9 145.2h0M649.4 167.6h0M650.8 191.5h0M652.3 216.2h0M653.8 241.3h0M655.3 266.2h0M656.8 290.6h0M658.3 314.5h0M659.8 337.6h0M661.3 360h0M662.8 381.8h0M664.3 403h0M665.7 423.5h0M667.2 443.3h0M668.7 462.2h0M670.2 480.2h0M671.7 497.2h0M673.2 513.2h0M674.7 528.6h0M676.2 543.7h0M677.7 558.8h0M679.2 574.1h0M680.6 589.4h0M682.1 604.5h0M683.6 619.3h0M685.1 633.7h0M686.6 647.4h0M688.1 660.6h0M689.6 673.2h0M691.1 685.3h0M692.6 697.2h0M694.1 708.8h0M695.5 720h0M697 730.7h0M698.5 740.8h0M700 750.1h0M701.5 758.7h0M703 766.5h0M704.5 773.7h0M706 780.2h0M707.5 786.3h0M709 791.9h0M710.4 797h0M711.9 801.4h0M713.4 805.2h0M714.9 808.1h0M716.4 809.7h0M717.9 810.2h0M719.4 810.3h0M720.9 809.6h0M722.4 805.2h0M723.9 793.4h0M725.3 773.6h0M726.8 743.8h0M728.3 703.2h0M729.8 667.2h0M731.3 654.1h0M732.8 668.9h0M734.3 707.7h0M735.8 747.3h0M737.3 775.6h0M738.8 792.5h0M740.2 800h0M741.7 801.2h0M743.2 801h0M744.7 799.1h0M746.2 794.7h0M747.7 788.3h0M749.2 780.3h0M750.7 771.1h0M752.2 761.3h0M753.7 751.7h0M755.1 742.9h0M756.6 734.5h0M758.1 725.6h0M759.6 715.5h0M761.1 703.8h0M762.6 690.5h0M764.1 675.7h0M765.6 659.5h0M767.1 642.1h0M768.6 623.4h0M770 603.8h0M771.5 583.5h0M773 563.1h0M774.5 543.3h0M776 524.5h0M777.5 506.7h0M779 489.6h0M780.5 472.6h0M782 455h0M783.5 436.2h0M784.9 416.5h0M786.4 396.4h0M787.9 376.9h0M789.4 359.4h0M790.9 346.2h0M792.4 339h0M793.9 337h0M795.4 339.7h0M796.9 346.4h0M798.4 358.6h0M799.8 376h0M801.3 396.9h0M802.8 420h0M804.3 444.1h0M805.8 468.1h0M807.3 491.1h0M808.8 513.1h0M810.3 534.1h0M811.8 554.8h0M813.3 575.5h0M814.7 596.3h0M816.2 617h0M817.7 637.5h0M819.2 657.5h0M820.7 677.1h0M822.2 696.4h0M823.7 715.3h0M825.2 733.8h0M826.7 751.7h0M828.2 768.9h0M829.6 785.1h0M831.1 800.1h0M832.6 814.1h0M834.1 827.1h0M835.6 839.3h0M837.1 850.9h0M838.6 862.2h0M840.1 873.4h0M841.6 884.5h0M843.1 895.7h0M844.5 906.9h0M846 917.9h0M847.5 928.6h0M849 938.8h0M850.5 948.5h0M852 957.7h0M853.5 966.5h0M855 975h0M856.5 983.4h0M858 991.6h0M859.4 999.6h0M860.9 1007.1h0M862.4 1013.9h0M863.9 1019.7h0M865.4 1024.4h0M866.9 1027.8h0M868.4 1030.1h0M869.9 1031.4h0M871.4 1031.7h0M872.9 1031.8h0M874.3 1032.3h0M875.8 1034.1h0M877.3 1037.8h0M878.8 1043.1h0M880.3 1049.2h0M881.8 1055.1h0M883.3 1060.3h0M884.8 1064.2h0M886.3 1066.5h0M887.8 1067.4h0M889.2 1067.4h0M890.7 1066.5h0M892.2 1064.4h0M893.7 1060.8h0M895.2 1055.6h0M896.7 1048.9h0M898.2 1040.7h0M899.7 1031.3h0M901.2 1021h0M902.7 1010.2h0M904.1 999.6h0M905.6 989.7h0M907.1 981.3h0M908.6 974.9h0M910.1 971.3h0M911.6 970.2h0M913.1 971.1h0M914.6 974.5h0M916.1 980.5h0M917.6 988h0M919 996.4h0M920.5 1005h0M922 1013.3h0M923.5 1021.1h0M925 1028.3h0M926.5 1035h0M928 1041.6h0M929.5 1048.5h0M931 1056.1h0M932.5 1064.5h0M933.9 1074h0M935.4 1084.3h0M936.9 1095.4h0M938.4 1106.8h0M939.9 1118.2h0M941.4 1129.2h0M942.9 1139.7h0M944.4 1149.5h0M945.9 1158.4h0M947.4 1166.4h0M948.8 1173.5h0M950.3 1179.7h0M951.8 1185.1h0M953.3 1189.8h0M954.8 1193.7h0M956.3 1197h0M957.8 1199.6h0M959.3 1201.5h0M960.8 1202.8h0M962.3 1203.4h0M963.7 1203h0M965.2 1201.9h0M966.7 1200h0M968.2 1197.1h0M969.7 1193h0M971.2 1187.7h0M972.7 1181.1h0M974.2 1173.1h0M975.7 1164h0M977.2 1153.8h0M978.6 1142.7h0M980.1 1131h0M981.6 1118.6h0M983.1 1105.5h0M984.6 1091.7h0M986.1 1077.1h0M987.6 1061.8h0M989.1 1046.4h0M990.6 1031.3h0M992.1 1017.3h0M993.5 1005.3h0M995 996.5h0M996.5 991.9h0M998 991.1h0M999.5 994h0M1001 1000.7h0M1002.5 1011.8h0M1004 1026.4h0M1005.5 1042.7h0M1007 1060.2h0M1008.4 1078h0M1009.9 1095.8h0M1011.4 1113.1h0M1012.9 1129.8h0M1014.4 1146h0M1015.9 1161.6h0M1017.4 1176.5h0M1018.9 1190.6h0M1020.4 1203.6h0M1021.9 1215.5h0M1023.3 1226.4h0M1024.8 1236.3h0M1026.3 1245.4h0M1027.8 1253.7h0M1029.3 1261.6h0M1030.8 1269.2h0M1032.3 1276.7h0M1033.8 1284.1h0M1035.3 1291.3h0M1036.8 1298.1h0M1038.2 1304.4h0M1039.7 1310.2h0M1041.2 1315.5h0M1042.7 1320.4h0M1044.2 1325h0M1045.7 1329.2h0M1047.2 1333.1h0M1048.7 1336.8h0M1050.2 1340.2h0M1051.7 1343.3h0M1053.1 1346.2h0M1054.6 1348.8h0M1056.1 1351.2h0M1057.6 1353.4h0M1059.1 1355.5h0M1060.6 1357.4h0M1062.1 1359.2h0M1063.6 1360.9h0M1065.1 1362.4h0M1066.6 1363.7h0M1068 1365h0M1069.5 1366h0M1071 1367h0M1072.5 1367.8h0M1074 1368.5h0M1075.5 1369h0M1077 1369.5h0M1078.5 1369.9h0M1080 1370.2h0M1081.5 1370.4h0M1082.9 1370.6h0M1084.4 1370.6h0M1085.9 1370.4h0M1087.4 1370.2h0M1088.9 1369.9h0M1090.4 1369.4h0M1091.9 1368.8h0M1093.4 1368.1h0M1094.9 1367.2h0M1096.4 1366.2h0M1097.8 1365.1h0M1099.3 1364h0M1100.8 1362.7h0M1102.3 1361.3h0M1103.8 1359.9h0M1105.3 1358.3h0M1106.8 1356.7h0M1108.3 1355h0M1109.8 1353.2h0M1111.3 1351.2h0M1112.7 1349.2h0M1114.2 1347.1h0M1115.7 1344.9h0M1117.2 1342.6h0M1118.7 1340.2h0M1120.2 1337.7h0M1121.7 1335.2h0M1123.2 1332.5h0M1124.7 1329.7h0M1126.2 1326.9h0M1127.6 1323.9h0M1129.1 1320.9h0M1130.6 1317.8h0M1132.1 1314.5h0M1133.6 1311.2h0M1135.1 1307.7h0M1136.6 1304h0M1138.1 1300.2h0M1139.6 1296.2h0M1141.1 1291.9h0M1142.5 1287.4h0M1144 1282.4h0M1145.5 1277.2h0M1147 1271.6h0M1148.5 1265.8h0M1150 1259.9h0M1151.5 1254h0M1153 1248h0M1154.5 1241.9h0M1156 1235.7h0M1157.4 1229.2h0M1158.9 1222.5h0M1160.4 1215.5h0M1161.9 1208.1h0M1163.4 1200.2h0M1164.9 1191.7h0M1166.4 1182.7h0M1167.9 1173.2h0M1169.4 1163.1h0M1170.9 1152.7h0M1172.3 1142.2h0M1173.8 1131.6h0M1175.3 1121.2h0M1176.8 1110.9h0M1178.3 1100.7h0M1179.8 1090.6h0M1181.3 1080.2h0M1182.8 1069.3h0M1184.3 1057.4h0M1185.8 1044.3h0M1187.2 1029.8h0M1188.7 1013.6h0M1190.2 995.8h0M1191.7 976.5h0M1193.2 955.7h0M1194.7 933.3h0M1196.2 909.1h0M1197.7 883.4h0M1199.2 857.5h0M1200.7 833.5h0M1202.1 810.9h0M1203.6 786.9h0M1205.1 759.8h0M1206.6 730h0M1208.1 698.2h0M1209.6 665.4h0M1211.1 632.5h0M1212.6 600.4h0M1214.1 570.9h0M1215.6 545.8h0M1217 528.2h0M1218.5 520.8h0M1220 523.1h0M1221.5 534.9h0M1223 555.2h0M1224.5 582.7h0M1226 613.9h0M1227.5 645.9h0M1229 677h0M1230.5 706.4h0M1231.9 733.5h0M1233.4 757.9h0M1234.9 779.5h0M1236.4 798h0M1237.9 813.4h0M1239.4 825.9h0M1240.9 835.7h0M1242.4 843.2h0M1243.9 848.2h0M1245.4 851.3h0M1246.8 852.3h0M1248.3 851.4h0M1249.8 848.8h0M1251.3 844.1h0M1252.8 837.3h0M1254.3 829.2h0M1255.8 819.6h0M1257.3 808.6h0M1258.8 796.1h0M1260.3 782.1h0M1261.7 766.5h0M1263.2 749.5h0M1264.7 731.5h0M1266.2 713.1h0M1267.7 694.4h0M1269.2 675.6h0M1270.7 656.1h0M1272.2 635.4h0M1273.7 612.9h0M1275.2 588h0M1276.6 560.5h0M1278.1 530.1h0M1279.6 497.2h0M1281.1 462.1h0M1282.6 426.2h0M1284.1 391.1h0M1285.6 359.2h0M1287.1 331.5h0M1288.6 307.2h0M1290.1 285h0M1291.5 267.1h0M1293 254.2h0M1294.5 248.7h0M1296 254.3h0M1297.5 270.3h0M1299 294.5h0M1300.5 324.6h0M1302 359.8h0M1303.5 397.5h0M1305 436h0M1306.4 474.2h0M1307.9 511.4h0M1309.4 547.1h0M1310.9 581h0M1312.4 613h0M1313.9 643.1h0M1315.4 671.4h0M1316.9 698h0M1318.4 722.8h0M1319.9 746h0M1321.3 767.5h0M1322.8 787.5h0M1324.3 805.8h0M1325.8 822.7h0M1327.3 838.2h0M1328.8 853h0M1330.3 868.6h0M1331.8 885.7h0M1333.3 903.4h0M1334.8 920.5h0M1336.2 936.6h0M1337.7 951.8h0M1339.2 965.9h0M1340.7 979.2h0M1342.2 991.5h0M1343.7 1003.1h0M1345.2 1014h0M1346.7 1024.3h0M1348.2 1033.9h0M1349.7 1042.9h0M1351.1 1051.3h0M1352.6 1059.3h0M1354.1 1066.8h0M1355.6 1073.9h0M1357.1 1080.7h0M1358.6 1087h0M1360.1 1092.9h0M1361.6 1098.3h0M1363.1 1103.1h0M1364.6 1107.4h0M1366 1111.1h0M1367.5 1114.3h0M1369 1116.8h0M1370.5 1118.8h0M1372 1120.2h0M1373.5 1120.8h0M1375 1120.4h0M1376.5 1119.2h0M1378 1117.3h0M1379.5 1114.5h0M1380.9 1110.6h0M1382.4 1105.6h0M1383.9 1099.8h0M1385.4 1093.1h0M1386.9 1086h0M1388.4 1078.7h0M1389.9 1071.5h0M1391.4 1064.8h0M1392.9 1058.9h0M1394.4 1053.9h0M1395.8 1049.8h0M1397.3 1046.4h0M1398.8 1043.3h0M1400.3 1040.1h0M1401.8 1036.3h0M1403.3 1031.3h0M1404.8 1025.2h0M1406.3 1018.7h0M1407.8 1014.5h0M1409.3 1013.4h0M1410.7 1015.9h0M1412.2 1023.9h0M1413.7 1038h0M1415.2 1054.3h0M1416.7 1070.4h0M1418.2 1085.5h0M1419.7 1098.9h0M1421.2 1110.3h0M1422.7 1120h0M1424.2 1128.1h0M1425.6 1134.8h0M1427.1 1140.1h0M1428.6 1144.2h0M1430.1 1147.1h0M1431.6 1149.1h0M1433.1 1150.5h0M1434.6 1151.1h0M1436.1 1150.2h0M1437.6 1148.4h0M1439.1 1145.9h0M1440.5 1142.6h0M1442 1138.6h0M1443.5 1134h0M1445 1128.8h0M1446.5 1123.2h0M1448 1117.2h0M1449.5 1110.9h0M1451 1104.4h0M1452.5 1097.6h0M1454 1090.4h0M1455.4 1082.8h0M1456.9 1074.4h0M1458.4 1065.3h0M1459.9 1055.4h0M1461.4 1044.8h0M1462.9 1033.6h0M1464.4 1022.1h0M1465.9 1010.3h0M1467.4 998.2h0M1468.9 985.9h0M1470.3 973h0M1471.8 959.5h0M1473.3 945.2h0M1474.8 930.1h0M1476.3 914.2h0M1477.8 897.6h0M1479.3 880.2h0M1480.8 862.2h0M1482.3 843.4h0M1483.8 824h0M1485.2 804.1h0M1486.7 783.9h0M1488.2 763.6h0M1489.7 743.4h0M1491.2 723.3h0M1492.7 702.9h0M1494.2 682.3h0M1495.7 661.5h0M1497.2 640.7h0M1498.7 620.5h0M1500.1 601.4h0M1501.6 584.3h0M1503.1 570h0M1504.6 559.5h0M1506.1 552.6h0M1507.6 550.4h0M1509.1 553.9h0M1510.6 561.4h0M1512.1 572.6h0M1513.6 587.8h0M1515 605.9h0M1516.5 626.1h0M1518 647.4h0M1519.5 669.2h0M1521 690.8h0M1522.5 711.6h0M1524 731.4h0M1525.5 750.3h0M1527 769.2h0M1528.5 788.7h0M1529.9 809.2h0M1531.4 830.1h0M1532.9 850.6h0M1534.4 870.3h0M1535.9 888.6h0M1537.4 905.3h0M1538.9 920.4h0M1540.4 934h0M1541.9 946.2h0M1543.4 957.2h0M1544.8 966.8h0M1546.3 975.1h0M1547.8 981.9h0M1549.3 987h0M1550.8 990.9h0M1552.3 993.7h0M1553.8 996h0M1555.3 998.5h0M1556.8 1001.8h0M1558.3 1006.4h0M1559.7 1012.6h0M1561.2 1020.6h0M1562.7 1030.3h0M1564.2 1041.5h0M1565.7 1053.8h0M1567.2 1066.7h0M1568.7 1079.9h0M1570.2 1092.8h0M1571.7 1105.2h0M1573.2 1116.7h0M1574.6 1127.3h0M1576.1 1136.8h0M1577.6 1145.2h0M1579.1 1152.5h0M1580.6 1159h0M1582.1 1164.7h0M1583.6 1169.7h0M1585.1 1174.1h0M1586.6 1178.1h0M1588.1 1181.7h0M1589.5 1184.9h0M1591 1187.6h0M1592.5 1189.7h0M1594 1191.4h0M1595.5 1192.6h0M1597 1192.9h0M1598.5 1192.3h0M1600 1191h0M1601.5 1189.1h0M1603 1186.5h0M1604.4 1183.2h0M1605.9 1179.2h0M1607.4 1174.6h0M1608.9 1169.5h0M1610.4 1164h0M1611.9 1158.3h0M1613.4 1152.4h0M1614.9 1146.5h0M1616.4 1140.6h0M1617.9 1134.6h0M1619.3 1128.3h0M1620.8 1121.7h0M1622.3 1114.4h0M1623.8 1106.3h0M1625.3 1097.4h0M1626.8 1087.8h0M1628.3 1077.5h0M1629.8 1066.6h0M1631.3 1054.9h0M1632.8 1042.6h0M1634.2 1029.3h0M1635.7 1015.1h0M1637.2 999.6h0M1638.7 982.9h0M1640.2 965h0M1641.7 945.9h0M1643.2 925.9h0M1644.7 905.4h0M1646.2 884.7h0M1647.7 864.2h0M1649.1 844.3h0M1650.6 825.3h0M1652.1 807.3h0M1653.6 791h0M1655.1 776.7h0M1656.6 764.9h0M1658.1 757h0M1659.6 753.1h0M1661.1 751.9h0M1662.6 753.1h0M1664 757.6h0M1665.5 765.8h0M1667 777.1h0M1668.5 791.3h0M1670 807.9h0M1671.5 826.3h0M1673 845.9h0M1674.5 866.4h0M1676 887.4h0M1677.5 908.6h0M1678.9 929.9h0M1680.4 950.9h0M1681.9 971.1h0M1683.4 990.1h0M1684.9 1007.8h0M1686.4 1024.1h0M1687.9 1039h0M1689.4 1052.2h0M1690.9 1063.7h0M1692.4 1075.3h0M1693.8 1090h0M1695.3 1107.4h0M1696.8 1124.6h0M1698.3 1140.8h0M1699.8 1155.7h0M1701.3 1169.8h0M1702.8 1182.9h0M1704.3 1195h0M1705.8 1206.2h0M1707.3 1216.6h0M1708.7 1226.4h0M1710.2 1235.6h0M1711.7 1244.2h0M1713.2 1252.3h0M1714.7 1259.7h0M1716.2 1266.3h0M1717.7 1272.2h0M1719.2 1277.3h0M1720.7 1281.6h0M1722.2 1285.1h0M1723.6 1287.8h0M1725.1 1289.6h0M1726.6 1290.3h0M1728.1 1290.5h0M1729.6 1290.2h0M1731.1 1289.3h0M1732.6 1287.6h0M1734.1 1285.4h0M1735.6 1283.1h0M1737.1 1281.4h0M1738.5 1280.7h0M1740 1280.8h0M1741.5 1281.9h0M1743 1284.1h0M1744.5 1286.6h0M1746 1289.1h0M1747.5 1290.8h0M1749 1291.8h0M1750.5 1292.2h0M1752 1291.1h0M1753.4 1287.9h0M1754.9 1282.5h0M1756.4 1275.3h0M1757.9 1267.4h0M1759.4 1259h0M1760.9 1250.6h0M1762.4 1242.6h0M1763.9 1235.2h0M1765.4 1228.8h0M1766.9 1223.4h0M1768.3 1219.1h0M1769.8 1216h0M1771.3 1214h0M1772.8 1212.6h0M1774.3 1211.8h0M1775.8 1212.2h0M1777.3 1214.3h0M1778.8 1219.2h0M1780.3 1228.4h0M1781.8 1242h0M1783.2 1259.1h0M1784.7 1277.7h0M1786.2 1296.4h0M1787.7 1314.3h0M1789.2 1331.2h0M1790.7 1346.8h0M1792.2 1361.2h0M1793.7 1374.5h0M1795.2 1386.9h0M1796.7 1398.7h0M1798.1 1409.9h0M1799.6 1420.6h0M1801.1 1430.7h0M1802.6 1440.3h0M1804.1 1449.1h0M1805.6 1457.2h0M1807.1 1464.5h0M1808.6 1471h0M1810.1 1477h0M1811.6 1482.7h0M1813 1488.1h0M1814.5 1493.4h0M1816 1498.6h0M1817.5 1503.7h0M1819 1508.6h0M1820.5 1513.4h0M1822 1518h0M1823.5 1522.4h0M1825 1526.6h0M1826.5 1530.6h0M1827.9 1534.4h0M1829.4 1538h0M1830.9 1541.4h0M1832.4 1544.8h0M1833.9 1547.9h0M1835.4 1551h0M1836.9 1554h0M1838.4 1556.9h0M1839.9 1559.8h0M1841.4 1562.6h0M1842.8 1565.4h0M1844.3 1568.1h0M1845.8 1570.7h0M1847.3 1573.3h0M1848.8 1575.7h0M1850.3 1578h0M1851.8 1580.2h0M1853.3 1582.3h0M1854.8 1584.4h0M1856.3 1586.3h0M1857.7 1588.1h0M1859.2 1589.9h0M1860.7 1591.5h0M1862.2 1593.1h0M1863.7 1594.6h0M1865.2 1596.1h0M1866.7 1597.4h0M1868.2 1598.7h0M1869.7 1599.9h0M1871.2 1601.1h0M1872.6 1602.2h0M1874.1 1603.2h0M1875.6 1604.2h0M1877.1 1605.1h0M1878.6 1605.9h0M1880.1 1606.7h0M1881.6 1607.4h0M1883.1 1608h0M1884.6 1608.6h0M1886.1 1609.1h0M1887.5 1609.5h0M1889 1609.9h0M1890.5 1610.2h0M1892 1610.5h0M1893.5 1610.6h0M1895 1610.6h0M1896.5 1610.6h0M1898 1610.6h0M1899.5 1610.5h0M1901 1610.3h0M1902.4 1610h0M1903.9 1609.5h0M1905.4 1608.8h0M1906.9 1608h0M1908.4 1607.1h0M1909.9 1605.9h0M1911.4 1604.5h0M1912.9 1602.9h0M1914.4 1601h0M1915.9 1598.9h0M1917.3 1596.4h0M1918.8 1593.5h0M1920.3 1590.2h0M1921.8 1586.4h0M1923.3 1582.1h0M1924.8 1577.2h0M1926.3 1571.9h0M1927.8 1566.3h0M1929.3 1560.7h0M1930.8 1555.4h0M1932.2 1550.6h0M1933.7 1546.9h0M1935.2 1544.7h0M1936.7 1543.9h0M1938.2 1543.8h0M1939.7 1544.8h0M1941.2 1547.3h0M1942.7 1551h0M1944.2 1555.1h0M1945.7 1559.2h0M1947.1 1563h0M1948.6 1566.3h0M1950.1 1569h0M1951.6 1571.1h0M1953.1 1572.5h0M1954.6 1573.4h0M1956.1 1573.9h0M1957.6 1574h0M1959.1 1573.7h0M1960.6 1573h0M1962 1571.8h0M1963.5 1569.9h0M1965 1567.5h0M1966.5 1564.5h0M1968 1561h0M1969.5 1556.9h0M1971 1552.2h0M1972.5 1547h0M1974 1541.5h0M1975.5 1535.6h0M1976.9 1529.8h0M1978.4 1524h0M1979.9 1518.5h0M1981.4 1513.5h0M1982.9 1509.2h0M1984.4 1505.6h0M1985.9 1503h0M1987.4 1501.6h0M1988.9 1501.1h0M1990.4 1501.1h0M1991.8 1502h0M1993.3 1503.9h0M1994.8 1507.1h0M1996.3 1511.4h0M1997.8 1516.3h0M1999.3 1521.8h0M2000.8 1527.6h0M2002.3 1533.5h0M2003.8 1539.3h0M2005.3 1544.9h0M2006.7 1550.1h0M2008.2 1554.8h0M2009.7 1559h0M2011.2 1562.7h0M2012.7 1565.9h0M2014.2 1568.6h0M2015.7 1570.9h0M2017.2 1572.8h0M2018.7 1574.4h0M2020.2 1575.6h0M2021.6 1576.6h0M2023.1 1577.3h0M2024.6 1577.8h0M2026.1 1578.2h0M2027.6 1578.4h0M2029.1 1578.5h0M2030.6 1578.5h0M2032.1 1578.3h0M2033.6 1578h0M2035.1 1577.6h0M2036.5 1577.1h0M2038 1576.5h0M2039.5 1575.7h0M2041 1574.8h0M2042.5 1573.7h0M2044 1572.5h0M2045.5 1571.2h0M2047 1569.8h0M2048.5 1568.3h0M2050 1566.7h0M2051.4 1565h0M2052.9 1563.2h0M2054.4 1561.3h0M2055.9 1559.3h0M2057.4 1557.2h0M2058.9 1554.9h0M2060.4 1552.4h0M2061.9 1549.8h0M2063.4 1547.1h0M2064.9 1544.2h0M2066.3 1541.2h0M2067.8 1538h0M2069.3 1534.8h0M2070.8 1531.3h0M2072.3 1527.7h0M2073.8 1523.9h0M2075.3 1519.9h0M2076.8 1515.7h0M2078.3 1511.2h0M2079.8 1506.5h0M2081.2 1501.4h0M2082.7 1495.8h0M2084.2 1489.8h0M2085.7 1483.3h0M2087.2 1476.2h0M2088.7 1468.4h0M2090.2 1459.8h0M2091.7 1450.4h0M2093.2 1440.1h0M2094.7 1428.7h0M2096.1 1416.2h0M2097.6 1402.1h0M2099.1 1386.3h0M2100.6 1368.3h0M2102.1 1347.9h0M2103.6 1324.8h0M2105.1 1298.6h0M2106.6 1269h0M2108.1 1235.8h0M2109.6 1199.4h0M2111 1161.8h0M2112.5 1126.4h0M2114 1098.2h0M2115.5 1080.4h0M2117 1072.5h0M2118.5 1071h0M2120 1077.3h0M2121.5 1097.9h0M2123 1130.5h0M2124.5 1169.1h0M2125.9 1208.3h0M2127.4 1243.7h0M2128.9 1274.4h0M2130.4 1300.4h0M2131.9 1322.2h0M2133.4 1340.2h0M2134.9 1355h0M2136.4 1366.9h0M2137.9 1376.3h0M2139.4 1383.7h0M2140.8 1389.3h0M2142.3 1393.4h0M2143.8 1396.4h0M2145.3 1398.4h0M2146.8 1399.6h0M2148.3 1400.1h0M2149.8 1400.4h0M2151.3 1400.2h0M2152.8 1399.5h0M2154.3 1398.5h0M2155.7 1397.1h0M2157.2 1395.4h0M2158.7 1393.3h0M2160.2 1390.9h0M2161.7 1388.3h0M2163.2 1385.4h0M2164.7 1382.4h0M2166.2 1379.1h0M2167.7 1375.7h0M2169.2 1372.1h0M2170.6 1368.3h0M2172.1 1364.3h0M2173.6 1360.1h0M2175.1 1355.7h0M2176.6 1351h0M2178.1 1346.1h0M2179.6 1341h0M2181.1 1335.7h0M2182.6 1330.3h0M2184.1 1324.6h0M2185.5 1318.9h0M2187 1313h0M2188.5 1306.9h0M2190 1300.6h0M2191.5 1294.1h0M2193 1287.4h0M2194.5 1280.4h0M2196 1273.2h0M2197.5 1265.8h0M2199 1258.2h0M2200.4 1250.4h0M2201.9 1242.4h0M2203.4 1234.3h0M2204.9 1226h0M2206.4 1217.7h0M2207.9 1209.1h0M2209.4 1200.3h0M2210.9 1191.3h0M2212.4 1181.9h0M2213.9 1172.3h0M2215.3 1162.5h0M2216.8 1152.5h0M2218.3 1142.4h0M2219.8 1132.2h0M2221.3 1122h0M2222.8 1111.8h0M2224.3 1101.8h0M2225.8 1091.9h0M2227.3 1082.4h0M2228.8 1073.1h0M2230.2 1064h0M2231.7 1054.7h0M2233.2 1044.8h0M2234.7 1033.9h0M2236.2 1021.8h0M2237.7 1008.5h0M2239.2 994.5h0M2240.7 980h0M2242.2 965.2h0M2243.7 950.3h0M2245.1 935.1h0M2246.6 919.6h0M2248.1 903.3h0M2249.6 886.1h0M2251.1 867.7h0M2252.6 848.1h0M2254.1 827.4h0M2255.6 805.8h0M2257.1 783.6h0M2258.6 761h0M2260 738.3h0M2261.5 715.4h0M2263 692.7h0M2264.5 670.5h0M2266 649.1h0M2267.5 629.1h0M2269 610.7h0M2270.5 594.4h0M2272 580.4h0M2273.5 568.8h0M2274.9 559.8h0M2276.4 553.3h0M2277.9 548.9h0M2279.4 547.9h0M2280.9 550.8h0M2282.4 556.5h0M2283.9 565.7h0M2285.4 578.6h0M2286.9 594.4h0M2288.4 612.6h0M2289.8 632.9h0M2291.3 654.4h0M2292.8 676.8h0M2294.3 699.7h0M2295.8 722.8h0M2297.3 746.1h0M2298.8 769.3h0M2300.3 792.1h0M2301.8 814.5h0M2303.3 836h0M2304.7 856.6h0M2306.2 876.3h0M2307.7 895h0M2309.2 912.8h0M2310.7 929.9h0M2312.2 946.1h0M2313.7 961.6h0M2315.2 976.2h0M2316.7 990h0M2318.2 1002.8h0M2319.6 1014.6h0M2321.1 1025.3h0M2322.6 1035h0M2324.1 1044.3h0M2325.6 1053.8h0M2327.1 1064.1h0M2328.6 1075.1h0M2330.1 1086.4h0M2331.6 1097.3h0M2333.1 1107.3h0M2334.5 1116.2h0M2336 1124h0M2337.5 1130.6h0M2339 1136.1h0M2340.5 1140.5h0M2342 1143.8h0M2343.5 1146.2h0M2345 1148h0M2346.5 1149.5h0M2348 1150.7h0M2349.4 1151.1h0M2350.9 1150.7h0M2352.4 1149.4h0M2353.9 1146.6h0M2355.4 1141.4h0M2356.9 1134.1h0M2358.4 1124.9h0M2359.9 1114.4h0M2361.4 1103.2h0M2362.9 1092.4h0M2364.3 1084.1h0M2365.8 1079.7h0M2367.3 1080.3h0M2368.8 1084.7h0M2370.3 1093.1h0M2371.8 1105.3h0M2373.3 1119.7h0M2374.8 1135.5h0M2376.3 1151.9h0M2377.8 1168.7h0M2379.2 1185.7h0M2380.7 1202.9h0" stroke="#000" stroke-width="1.9" stroke-linecap="round"/>
<polyline points="298.5,1283 402.9,1232.2 507.2,977.8 611.5,779.1 715.9,775 820.2,931.9 924.6,1107.5 1029,1242.7 1133.3,1285.2 1237.7,891.4 1342,1036.3 1446.3,1067.5 1550.7,1070.6 1655,1073.6 1759.4,1299.8 1863.8,1576.8 1968.1,1550.3 2072.4,1447.8 2176.8,1307.7 2281.2,976.7 2385.5,1198.5" stroke="#EF3E3E" stroke-width="5" stroke-linejoin="round"/>
<g fill="#f00" stroke="none"><circle cx="298.5" cy="1283" r="6.8"/><circle cx="402.9" cy="1232.2" r="6.8"/><circle cx="507.2" cy="977.8" r="6.8"/><circle cx="611.5" cy="779.1" r="6.8"/><circle cx="715.9" cy="775" r="6.8"/><circle cx="820.2" cy="931.9" r="6.8"/><circle cx="924.6" cy="1107.5" r="6.8"/><circle cx="1029" cy="1242.7" r="6.8"/><circle cx="1133.3" cy="1285.2" r="6.8"/><circle cx="1237.7" cy="891.4" r="6.8"/><circle cx="1342" cy="1036.3" r="6.8"/><circle cx="1446.3" cy="1067.5" r="6.8"/><circle cx="1550.7" cy="1070.6" r="6.8"/><circle cx="1655" cy="1073.6" r="6.8"/><circle cx="1759.4" cy="1299.8" r="6.8"/><circle cx="1863.8" cy="1576.8" r="6.8"/><circle cx="1968.1" cy="1550.3" r="6.8"/><circle cx="2072.4" cy="1447.8" r="6.8"/><circle cx="2176.8" cy="1307.7" r="6.8"/><circle cx="2281.2" cy="976.7" r="6.8"/><circle cx="2385.5" cy="1198.5" r="6.8"/></g>
</g>
<g stroke="#000" stroke-width="9" fill="none" stroke-linecap="butt">
<rect x="298.5" y="37.5" width="2087.0" height="1686.0"/>
<path d="M266 231.5H294M266 784H294M266 1336.5H294M282 65.2H294M282 617.7H294M282 520.4H294M282 451.4H294M282 397.8H294M282 354.1H294M282 317.1H294M282 285H294M282 256.8H294M282 1170.2H294M282 1072.9H294M282 1003.9H294M282 950.3H294M282 906.6H294M282 869.6H294M282 837.5H294M282 809.3H294M282 1722.7H294M282 1625.4H294M282 1556.4H294M282 1502.8H294M282 1459.1H294M282 1422.1H294M282 1390H294M282 1361.8H294M820.2 1690V1719M1342 1690V1719M1863.8 1690V1719M559.4 1706V1719M1081.1 1706V1719M1602.9 1706V1719M2124.6 1706V1719"/>
</g>
<g font-size="73" letter-spacing="-0.5">
<text x="243.5" y="252.3" text-anchor="end">100</text>
<text x="243.5" y="804.8" text-anchor="end">10</text>
<text x="240.5" y="1357.3" text-anchor="end">1</text>
<text x="299" y="1813.3" text-anchor="middle">3500</text>
<text x="820.8" y="1813.3" text-anchor="middle">3505</text>
<text x="1342.5" y="1813.3" text-anchor="middle">3510</text>
<text x="1864.2" y="1813.3" text-anchor="middle">3515</text>
<text x="2386" y="1813.3" text-anchor="middle">3520</text>
</g>
<text x="1003" y="1962" font-size="88.4">Wavenumber(cm<tspan font-size="58" dy="-36">-1</tspan><tspan dy="36">)</tspan></text>
<text transform="translate(99.4,1109) rotate(-90)" font-size="88.4">optical depth</text>
<g font-size="83.5"><text x="535" y="1385.8">T=200K</text><text x="533.5" y="1487.7">P=1200hPa</text><text x="533.5" y="1590.7">U=415atm-cm</text></g>
<rect x="1453.5" y="104.5" width="895.5" height="158.5" fill="#fff" stroke="#000" stroke-width="1.8"/>
<path d="M1461 146.5H1597" stroke="#505050" stroke-width="7" fill="none"/>
<circle cx="1529.5" cy="146.5" r="0.9" fill="#000"/>
<path d="M1461 220.6H1597" stroke="#EF3E3E" stroke-width="5" fill="none"/>
<circle cx="1529" cy="220.5" r="6.8" fill="#f00"/>
<g font-size="59.5"><text x="1610.7" y="164.7">Monochromatic Optical Depth</text><text x="1610.7" y="239.1">Mean Optical Depth</text></g>
</svg></body></html>
